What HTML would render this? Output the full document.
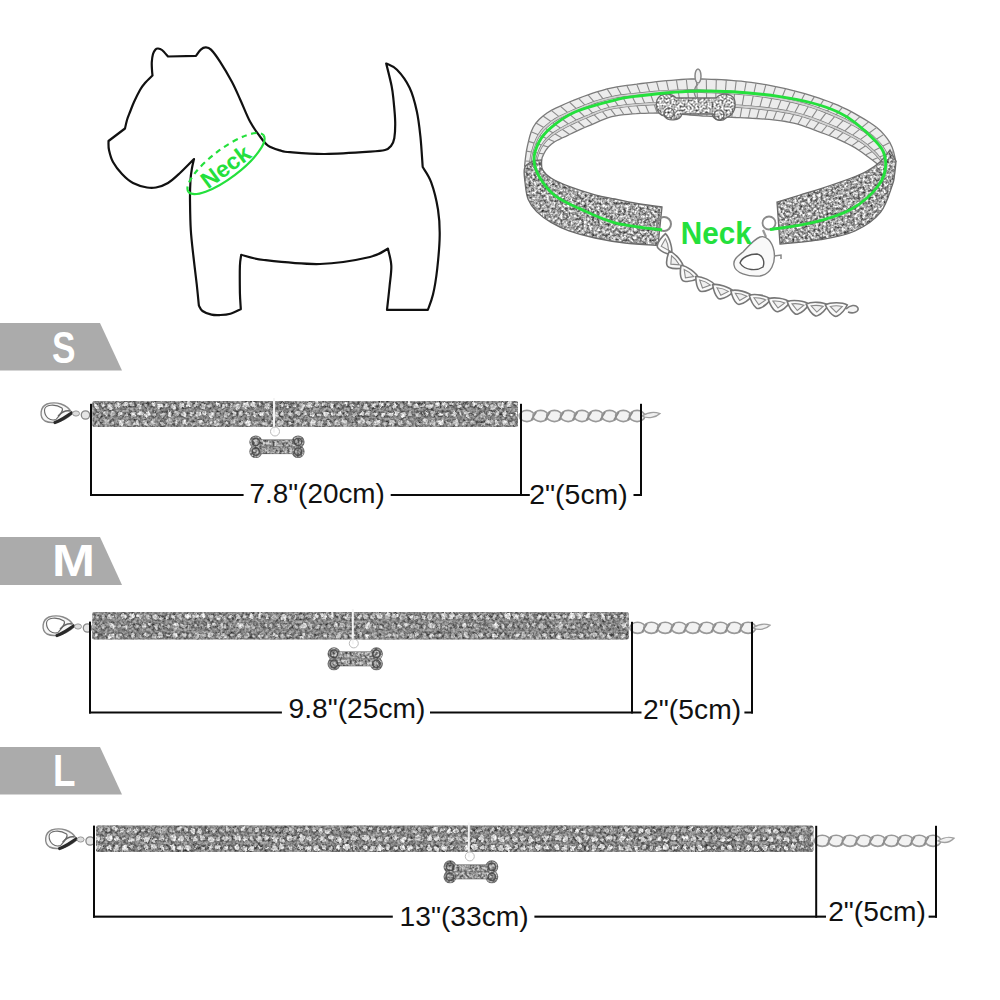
<!DOCTYPE html><html><head><meta charset="utf-8"><style>
html,body{margin:0;padding:0;background:#fff;width:1000px;height:1000px;overflow:hidden}
svg{display:block;font-family:"Liberation Sans",sans-serif}
.ln{fill:#0a0a0a}
.lk{fill:none;stroke:#888;stroke-width:1.6}
</style></head><body>
<svg width="1000" height="1000" viewBox="0 0 1000 1000">
<defs>
<filter id="tex" x="0" y="0" width="1" height="1" color-interpolation-filters="sRGB">
 <feTurbulence type="fractalNoise" baseFrequency="0.38" numOctaves="2" seed="7" result="n"/>
 <feColorMatrix in="n" type="matrix" values="1.8 0 0 0 -0.26  1.8 0 0 0 -0.26  1.8 0 0 0 -0.26  0 0 0 0 1" result="g"/>
 <feComposite in="g" in2="SourceGraphic" operator="in"/>
</filter>
<filter id="tex2" x="0" y="0" width="1" height="1" color-interpolation-filters="sRGB">
 <feTurbulence type="fractalNoise" baseFrequency="0.4" numOctaves="2" seed="3" result="n"/>
 <feColorMatrix in="n" type="matrix" values="1.8 0 0 0 -0.3  1.8 0 0 0 -0.3  1.8 0 0 0 -0.3  0 0 0 0 1" result="g"/>
 <feComposite in="g" in2="SourceGraphic" operator="in"/>
</filter>
<filter id="tex3" x="0" y="0" width="1" height="1" color-interpolation-filters="sRGB">
 <feTurbulence type="fractalNoise" baseFrequency="0.38" numOctaves="2" seed="11" result="n"/>
 <feColorMatrix in="n" type="matrix" values="1.45 0 0 0 -0.03  1.45 0 0 0 -0.03  1.45 0 0 0 -0.03  0 0 0 0 1" result="g"/>
 <feComposite in="g" in2="SourceGraphic" operator="in"/>
</filter>
<filter id="tex4" x="0" y="0" width="1" height="1" color-interpolation-filters="sRGB">
 <feTurbulence type="fractalNoise" baseFrequency="0.5" numOctaves="2" seed="5" result="n"/>
 <feColorMatrix in="n" type="matrix" values="1.6 0 0 0 -0.05  1.6 0 0 0 -0.05  1.6 0 0 0 -0.05  0 0 0 0 1" result="g"/>
 <feComposite in="g" in2="SourceGraphic" operator="in"/>
</filter>
<filter id="warp" x="0" y="0" width="1" height="1" color-interpolation-filters="sRGB">
 <feTurbulence type="fractalNoise" baseFrequency="0.25" numOctaves="2" seed="9" result="t"/>
 <feDisplacementMap in="SourceGraphic" in2="t" scale="5" xChannelSelector="R" yChannelSelector="G" result="d"/>
 <feComposite in="d" in2="SourceGraphic" operator="in"/>
</filter>
<pattern id="bandpat" patternUnits="userSpaceOnUse" width="9" height="8" patternTransform="rotate(12)">
 <circle cx="4.5" cy="4" r="3.2" fill="none" stroke="#333" stroke-width="1.2"/>
</pattern>
<filter id="blur" x="-20%" y="-50%" width="140%" height="200%"><feGaussianBlur stdDeviation="6"/></filter>
</defs>
<rect width="1000" height="1000" fill="#fff"/>

<path d="M152.5,75.5 C152.4,74.6 152.1,72.2 152.0,70.0 C151.9,67.8 151.6,64.7 151.8,62.0 C152.0,59.3 152.4,56.1 153.0,54.0 C153.6,51.9 154.7,50.4 155.5,49.5 C156.3,48.6 156.9,48.4 158.0,48.5 C159.1,48.6 160.3,48.7 162.0,50.0 C163.7,51.3 167.0,55.4 168.0,56.5 L196.0,55.8 C196.8,54.8 199.2,51.0 200.8,49.6 C202.4,48.2 203.9,47.4 205.6,47.4 C207.3,47.4 208.6,47.2 211.0,49.6 C213.4,52.0 216.5,56.2 220.0,61.6 C223.5,67.0 228.6,75.6 232.0,82.0 C235.4,88.4 237.4,93.4 240.4,100.0 C243.4,106.6 246.8,115.6 250.0,121.6 C253.2,127.6 256.6,132.0 259.6,136.0 C262.6,140.0 264.6,143.2 268.0,145.6 C271.4,148.0 276.3,149.3 280.0,150.4 C283.7,151.5 282.5,151.6 290.0,152.2 C297.5,152.8 311.7,154.1 325.0,154.0 C338.3,153.9 360.0,152.4 370.0,151.7 C380.0,151.0 381.5,150.9 385.0,150.0 C388.5,149.1 389.4,148.0 391.0,146.0 C392.6,144.0 393.6,142.2 394.3,138.2 C395.0,134.2 395.3,128.4 395.2,122.0 C395.1,115.6 394.1,106.0 393.5,100.0 C392.9,94.0 392.8,92.1 391.6,86.0 C390.4,79.9 387.1,67.2 386.2,63.5 C388.0,64.5 393.1,65.8 397.0,69.8 C400.9,73.8 406.3,80.9 409.6,87.8 C412.9,94.7 415.0,103.1 416.8,111.2 C418.6,119.3 419.4,127.1 420.4,136.4 C421.4,145.7 422.3,161.9 422.7,167.0 C424.1,169.6 428.6,175.2 431.2,182.3 C433.8,189.4 436.6,200.7 438.0,209.5 C439.4,218.3 439.8,225.1 439.7,235.0 C439.6,244.9 438.3,259.1 437.2,269.0 C436.1,278.9 434.6,287.8 433.0,294.6 C431.4,301.4 428.7,307.3 427.8,309.9 L387.0,309.9 C387.4,305.9 388.9,293.4 389.6,286.0 C390.3,278.6 391.6,271.8 391.3,265.6 C391.0,259.4 388.5,251.4 387.9,248.6 C384.9,250.0 381.3,254.4 370.0,257.0 C358.7,259.6 337.7,263.5 320.0,264.0 C302.3,264.5 277.1,261.5 264.0,260.0 C250.9,258.5 245.0,255.7 241.2,254.8 C241.0,256.7 240.1,259.6 239.9,266.0 C239.7,272.4 239.8,285.8 239.9,293.0 C240.1,300.2 240.7,306.5 240.8,309.2 C239.1,309.9 233.8,312.7 230.4,313.7 C227.0,314.7 223.7,314.9 220.5,315.0 C217.3,315.1 214.5,315.3 211.5,314.6 C208.5,313.9 204.6,312.5 202.5,311.0 C200.4,309.5 199.5,306.5 198.9,305.6 C198.5,302.0 197.6,292.1 196.7,284.0 C195.8,275.9 194.5,266.0 193.5,257.0 C192.5,248.0 191.4,239.5 190.8,230.0 C190.2,220.5 190.1,208.3 190.0,200.0 C189.9,191.7 190.2,185.3 190.5,180.0 C190.8,174.7 191.4,171.5 192.0,168.0 C192.6,164.5 193.7,160.5 194.0,159.0 C191.7,161.3 184.3,169.0 180.0,173.0 C175.7,177.0 172.0,180.6 168.0,183.0 C164.0,185.4 159.5,186.8 156.0,187.5 C152.5,188.2 150.8,188.2 147.0,187.5 C143.2,186.8 137.2,185.2 133.0,183.0 C128.8,180.8 125.3,177.5 122.0,174.0 C118.7,170.5 115.2,166.0 113.0,162.0 C110.8,158.0 109.8,153.5 109.0,150.0 C108.2,146.5 108.6,142.5 108.5,141.0 L125.0,128.5 C125.3,127.1 126.2,122.8 127.0,120.0 C127.8,117.2 128.8,115.0 130.0,112.0 C131.2,109.0 132.3,105.7 134.0,102.0 C135.7,98.3 138.2,93.2 140.0,90.0 C141.8,86.8 142.9,85.4 145.0,83.0 C147.1,80.6 151.2,76.8 152.5,75.5 Z" fill="none" stroke="#111" stroke-width="2.2" stroke-linejoin="round"/>
<g transform="translate(226,163.5) rotate(-37)"><path d="M-47,0 A47,14.5 0 0 0 47,0" fill="none" stroke="#24e03c" stroke-width="2.2"/><path d="M-47,0 A47,14.5 0 0 1 47,0" fill="none" stroke="#24e03c" stroke-width="2.2" stroke-dasharray="5.5,4.5"/></g>
<text x="0" y="0" font-size="23" font-weight="bold" fill="#24e03c" transform="translate(208,189.5) rotate(-36.5)" textLength="55.5" lengthAdjust="spacingAndGlyphs">Neck</text>
<path d="M524.6,166.0 L525.1,161.0 L525.7,156.1 L526.4,151.1 L527.4,146.2 L528.5,141.4 L529.7,136.5 L531.2,131.8 L533.2,127.2 L536.0,123.0 L539.3,119.3 L543.0,116.0 L547.0,113.0 L551.3,110.4 L555.7,108.2 L560.3,106.1 L564.8,104.0 L569.4,102.0 L574.0,100.1 L578.6,98.3 L583.3,96.5 L588.0,94.8 L592.8,93.2 L597.5,91.7 L602.3,90.3 L607.1,88.9 L612.0,87.8 L616.9,86.8 L621.8,86.1 L626.8,85.4 L631.7,84.8 L636.7,84.2 L641.6,83.5 L646.6,82.9 L651.5,82.3 L656.5,81.7 L661.5,81.2 L666.4,80.7 L671.4,80.3 L676.4,79.9 L681.4,79.5 L686.3,79.2 L691.3,79.0 L696.3,79.0 L701.3,79.0 L706.3,79.1 L711.3,79.3 L716.3,79.5 L721.3,79.7 L726.3,80.0 L731.2,80.4 L736.2,80.8 L741.2,81.2 L746.2,81.8 L751.1,82.4 L756.1,83.1 L761.0,83.9 L765.9,84.7 L770.8,85.6 L775.7,86.6 L780.6,87.6 L785.5,88.7 L790.3,89.8 L795.2,91.1 L800.0,92.3 L804.8,93.7 L809.6,95.1 L814.4,96.6 L819.1,98.2 L823.8,99.8 L828.5,101.5 L833.2,103.3 L837.8,105.2 L842.4,107.3 L846.9,109.4 L851.3,111.7 L855.7,114.1 L860.0,116.6 L864.3,119.1 L868.6,121.8 L872.7,124.5 L876.8,127.4 L880.5,130.8 L883.9,134.4 L887.1,138.3 L889.8,142.4 L892.0,146.9 L893.6,151.7 L894.7,156.5 L895.8,161.4 L878.8,165.0 L875.5,162.4 L872.3,159.9 L868.9,157.4 L865.5,155.0 L862.2,152.5 L858.8,150.2 L855.3,147.9 L851.7,145.9 L848.0,144.0 L844.2,142.1 L840.5,140.4 L836.7,138.7 L832.9,137.0 L829.0,135.5 L825.1,134.0 L821.2,132.6 L817.3,131.2 L813.4,129.7 L809.6,128.2 L805.7,126.8 L801.7,125.4 L797.8,124.2 L793.7,123.2 L789.7,122.3 L785.6,121.5 L781.5,120.8 L777.4,120.3 L773.3,119.8 L769.1,119.4 L765.0,119.1 L760.8,118.8 L756.7,118.5 L752.5,118.3 L748.4,118.0 L744.2,117.8 L740.1,117.6 L735.9,117.5 L731.8,117.3 L727.6,117.1 L723.5,116.9 L719.3,116.7 L715.2,116.6 L711.0,116.4 L706.9,116.2 L702.7,116.0 L698.6,115.7 L694.5,115.4 L690.3,115.1 L686.2,114.7 L682.0,114.3 L677.9,114.0 L673.8,113.6 L669.6,113.3 L665.5,113.1 L661.3,113.0 L657.2,113.0 L653.0,113.1 L648.9,113.1 L644.7,113.3 L640.5,113.4 L636.4,113.7 L632.3,113.9 L628.1,114.3 L624.0,114.7 L619.9,115.2 L615.8,115.8 L611.7,116.7 L607.7,117.8 L603.8,119.3 L600.0,120.9 L596.2,122.6 L592.4,124.3 L588.5,125.8 L584.7,127.5 L580.9,129.2 L577.2,130.9 L573.4,132.7 L569.6,134.5 L565.9,136.3 L562.1,138.0 L558.4,139.8 L554.7,141.8 L551.3,144.2 L548.3,147.0 L545.8,150.3 L543.8,153.9 L542.1,157.8 L541.5,161.8 L541.4,166.0 Z" fill="#ececec"/>
<path d="M524.6,166.0 L525.1,161.0 L525.7,156.1 L526.4,151.1 L527.4,146.2 L528.5,141.4 L529.7,136.5 L531.2,131.8 L533.2,127.2 L536.0,123.0 L539.3,119.3 L543.0,116.0 L547.0,113.0 L551.3,110.4 L555.7,108.2 L560.3,106.1 L564.8,104.0 L569.4,102.0 L574.0,100.1 L578.6,98.3 L583.3,96.5 L588.0,94.8 L592.8,93.2 L597.5,91.7 L602.3,90.3 L607.1,88.9 L612.0,87.8 L616.9,86.8 L621.8,86.1 L626.8,85.4 L631.7,84.8 L636.7,84.2 L641.6,83.5 L646.6,82.9 L651.5,82.3 L656.5,81.7 L661.5,81.2 L666.4,80.7 L671.4,80.3 L676.4,79.9 L681.4,79.5 L686.3,79.2 L691.3,79.0 L696.3,79.0 L701.3,79.0 L706.3,79.1 L711.3,79.3 L716.3,79.5 L721.3,79.7 L726.3,80.0 L731.2,80.4 L736.2,80.8 L741.2,81.2 L746.2,81.8 L751.1,82.4 L756.1,83.1 L761.0,83.9 L765.9,84.7 L770.8,85.6 L775.7,86.6 L780.6,87.6 L785.5,88.7 L790.3,89.8 L795.2,91.1 L800.0,92.3 L804.8,93.7 L809.6,95.1 L814.4,96.6 L819.1,98.2 L823.8,99.8 L828.5,101.5 L833.2,103.3 L837.8,105.2 L842.4,107.3 L846.9,109.4 L851.3,111.7 L855.7,114.1 L860.0,116.6 L864.3,119.1 L868.6,121.8 L872.7,124.5 L876.8,127.4 L880.5,130.8 L883.9,134.4 L887.1,138.3 L889.8,142.4 L892.0,146.9 L893.6,151.7 L894.7,156.5 L895.8,161.4 L890.7,162.5 L889.0,158.3 L887.2,154.1 L885.1,150.1 L882.6,146.2 L879.6,142.6 L876.3,139.2 L872.9,135.9 L869.2,133.0 L865.3,130.3 L861.3,127.9 L857.2,125.5 L853.0,123.2 L848.8,121.0 L844.6,118.8 L840.3,116.8 L836.0,114.9 L831.7,113.0 L827.3,111.2 L822.8,109.5 L818.4,107.9 L813.9,106.3 L809.4,104.9 L804.9,103.5 L800.3,102.3 L795.7,101.1 L791.1,100.0 L786.5,99.0 L781.8,98.0 L777.2,97.1 L772.5,96.3 L767.8,95.6 L763.1,94.9 L758.5,94.2 L753.8,93.6 L749.1,93.0 L744.3,92.5 L739.6,92.1 L734.9,91.7 L730.2,91.4 L725.4,91.1 L720.7,90.8 L716.0,90.6 L711.2,90.4 L706.5,90.3 L701.7,90.1 L697.0,90.0 L692.3,89.9 L687.5,90.0 L682.8,90.1 L678.1,90.2 L673.3,90.4 L668.6,90.6 L663.9,90.8 L659.2,91.1 L654.5,91.5 L649.7,91.9 L645.0,92.4 L640.3,92.9 L635.6,93.4 L630.9,93.8 L626.2,94.4 L621.5,95.0 L616.8,95.7 L612.2,96.7 L607.6,97.7 L603.0,98.9 L598.4,100.3 L593.9,101.7 L589.5,103.4 L585.0,105.1 L580.7,106.9 L576.3,108.7 L571.9,110.5 L567.6,112.5 L563.3,114.5 L559.0,116.6 L554.9,118.9 L551.0,121.5 L547.3,124.4 L543.8,127.5 L540.8,131.0 L538.2,134.8 L536.2,138.8 L534.4,143.1 L532.9,147.5 L531.6,152.0 L530.6,156.6 L530.0,161.3 L529.6,166.0 Z" fill="#ececec" stroke="#7a7a7a" stroke-width="1.3"/>
<path d="M525.1,161.0 L530.0,161.3 M526.4,151.1 L531.6,152.0 M528.5,141.4 L534.4,143.1 M531.2,131.8 L538.2,134.8 M536.0,123.0 L543.8,127.5 M543.0,116.0 L551.0,121.5 M551.3,110.4 L559.0,116.6 M560.3,106.1 L567.6,112.5 M569.4,102.0 L576.3,108.7 M578.6,98.3 L585.0,105.1 M588.0,94.8 L593.9,101.7 M597.5,91.7 L603.0,98.9 M607.1,88.9 L612.2,96.7 M616.9,86.8 L621.5,95.0 M626.8,85.4 L630.9,93.8 M636.7,84.2 L640.3,92.9 M646.6,82.9 L649.7,91.9 M656.5,81.7 L659.2,91.1 M666.4,80.7 L668.6,90.6 M676.4,79.9 L678.1,90.2 M686.3,79.2 L687.5,90.0 M696.3,79.0 L697.0,90.0 M706.3,79.1 L706.5,90.3 M716.3,79.5 L716.0,90.6 M726.3,80.0 L725.4,91.1 M736.2,80.8 L734.9,91.7 M746.2,81.8 L744.3,92.5 M756.1,83.1 L753.8,93.6 M765.9,84.7 L763.1,94.9 M775.7,86.6 L772.5,96.3 M785.5,88.7 L781.8,98.0 M795.2,91.1 L791.1,100.0 M804.8,93.7 L800.3,102.3 M814.4,96.6 L809.4,104.9 M823.8,99.8 L818.4,107.9 M833.2,103.3 L827.3,111.2 M842.4,107.3 L836.0,114.9 M851.3,111.7 L844.6,118.8 M860.0,116.6 L853.0,123.2 M868.6,121.8 L861.3,127.9 M876.8,127.4 L869.2,133.0 M883.9,134.4 L876.3,139.2 M889.8,142.4 L882.6,146.2 M893.6,151.7 L887.2,154.1" stroke="#8a8a8a" stroke-width="1.1"/>
<path d="M530.6,166.0 L531.0,161.3 L531.6,156.7 L532.6,152.1 L534.0,147.7 L535.6,143.4 L537.5,139.3 L539.7,135.4 L542.3,131.8 L545.4,128.4 L548.8,125.4 L552.6,122.6 L556.5,120.1 L560.6,117.8 L564.8,115.7 L569.1,113.8 L573.3,111.9 L577.7,110.0 L582.0,108.2 L586.3,106.4 L590.7,104.7 L595.1,103.1 L599.6,101.7 L604.1,100.4 L608.6,99.2 L613.2,98.2 L617.8,97.3 L622.4,96.6 L627.1,96.0 L631.7,95.5 L636.4,95.1 L641.0,94.6 L645.7,94.2 L650.4,93.8 L655.0,93.4 L659.7,93.0 L664.4,92.8 L669.1,92.6 L673.7,92.4 L678.4,92.3 L683.1,92.2 L687.8,92.1 L692.5,92.1 L697.1,92.2 L701.8,92.3 L706.5,92.5 L711.2,92.7 L715.9,92.8 L720.6,93.1 L725.3,93.3 L729.9,93.6 L734.6,93.9 L739.3,94.3 L744.0,94.7 L748.6,95.2 L753.3,95.7 L757.9,96.3 L762.6,96.9 L767.2,97.6 L771.9,98.3 L776.5,99.1 L781.1,99.9 L785.7,100.8 L790.3,101.8 L794.8,102.8 L799.4,104.0 L803.9,105.2 L808.4,106.5 L812.9,108.0 L817.3,109.5 L821.7,111.1 L826.1,112.8 L830.4,114.6 L834.8,116.4 L839.0,118.3 L843.3,120.3 L847.5,122.4 L851.6,124.5 L855.7,126.8 L859.8,129.1 L863.8,131.5 L867.7,134.1 L871.4,136.9 L874.8,140.1 L878.1,143.4 L881.1,146.9 L883.7,150.7 L885.9,154.6 L887.8,158.6 L889.7,162.7 L884.6,163.8 L882.1,160.4 L879.5,157.1 L876.8,153.8 L873.8,150.7 L870.6,147.7 L867.3,144.8 L863.8,142.1 L860.2,139.6 L856.4,137.4 L852.5,135.2 L848.6,133.2 L844.6,131.2 L840.6,129.2 L836.6,127.4 L832.5,125.6 L828.4,124.0 L824.3,122.3 L820.2,120.7 L816.0,119.1 L811.8,117.6 L807.6,116.2 L803.4,114.8 L799.1,113.6 L794.8,112.6 L790.5,111.6 L786.2,110.7 L781.8,109.9 L777.4,109.2 L773.0,108.6 L768.6,108.0 L764.2,107.5 L759.8,107.0 L755.4,106.6 L751.0,106.2 L746.6,105.8 L742.2,105.4 L737.7,105.1 L733.3,104.9 L728.9,104.6 L724.4,104.4 L720.0,104.2 L715.6,104.0 L711.1,103.8 L706.7,103.6 L702.3,103.4 L697.8,103.2 L693.4,103.0 L689.0,102.9 L684.5,102.8 L680.1,102.6 L675.7,102.5 L671.3,102.4 L666.8,102.4 L662.4,102.4 L658.0,102.6 L653.6,102.8 L649.1,103.0 L644.7,103.3 L640.3,103.6 L635.9,103.9 L631.4,104.3 L627.0,104.7 L622.6,105.3 L618.2,105.9 L613.9,106.7 L609.5,107.6 L605.2,108.7 L601.0,110.0 L596.8,111.5 L592.7,113.2 L588.7,115.0 L584.6,116.7 L580.5,118.4 L576.4,120.2 L572.4,122.0 L568.4,124.0 L564.4,126.0 L560.6,128.2 L556.8,130.5 L553.2,132.9 L549.8,135.5 L546.7,138.4 L544.0,141.6 L541.6,145.1 L539.5,148.9 L537.9,153.0 L536.5,157.2 L535.9,161.6 L535.7,166.0 Z" fill="#ececec" stroke="#7a7a7a" stroke-width="1.3"/>
<path d="M531.0,161.3 L535.9,161.6 M532.6,152.1 L537.9,153.0 M535.6,143.4 L541.6,145.1 M539.7,135.4 L546.7,138.4 M545.4,128.4 L553.2,132.9 M552.6,122.6 L560.6,128.2 M560.6,117.8 L568.4,124.0 M569.1,113.8 L576.4,120.2 M577.7,110.0 L584.6,116.7 M586.3,106.4 L592.7,113.2 M595.1,103.1 L601.0,110.0 M604.1,100.4 L609.5,107.6 M613.2,98.2 L618.2,105.9 M622.4,96.6 L627.0,104.7 M631.7,95.5 L635.9,103.9 M641.0,94.6 L644.7,103.3 M650.4,93.8 L653.6,102.8 M659.7,93.0 L662.4,102.4 M669.1,92.6 L671.3,102.4 M678.4,92.3 L680.1,102.6 M687.8,92.1 L689.0,102.9 M697.1,92.2 L697.8,103.2 M706.5,92.5 L706.7,103.6 M715.9,92.8 L715.6,104.0 M725.3,93.3 L724.4,104.4 M734.6,93.9 L733.3,104.9 M744.0,94.7 L742.2,105.4 M753.3,95.7 L751.0,106.2 M762.6,96.9 L759.8,107.0 M771.9,98.3 L768.6,108.0 M781.1,99.9 L777.4,109.2 M790.3,101.8 L786.2,110.7 M799.4,104.0 L794.8,112.6 M808.4,106.5 L803.4,114.8 M817.3,109.5 L811.8,117.6 M826.1,112.8 L820.2,120.7 M834.8,116.4 L828.4,124.0 M843.3,120.3 L836.6,127.4 M851.6,124.5 L844.6,131.2 M859.8,129.1 L852.5,135.2 M867.7,134.1 L860.2,139.6 M874.8,140.1 L867.3,144.8 M881.1,146.9 L873.8,150.7 M885.9,154.6 L879.5,157.1" stroke="#8a8a8a" stroke-width="1.1"/>
<path d="M536.7,166.0 L536.9,161.6 L537.5,157.3 L538.9,153.2 L540.6,149.2 L542.7,145.4 L545.3,142.0 L548.1,139.0 L551.3,136.3 L554.8,133.8 L558.4,131.5 L562.2,129.3 L566.0,127.2 L569.9,125.2 L573.9,123.3 L577.9,121.5 L581.9,119.7 L585.9,118.0 L590.0,116.3 L594.0,114.6 L598.1,112.9 L602.2,111.4 L606.4,110.1 L610.6,109.1 L614.9,108.2 L619.3,107.5 L623.6,106.9 L627.9,106.4 L632.3,105.9 L636.7,105.6 L641.1,105.3 L645.4,105.0 L649.8,104.8 L654.2,104.6 L658.6,104.4 L663.0,104.3 L667.3,104.3 L671.7,104.4 L676.1,104.5 L680.4,104.7 L684.8,104.9 L689.2,105.0 L693.6,105.2 L698.0,105.4 L702.3,105.6 L706.7,105.8 L711.1,106.0 L715.5,106.2 L719.9,106.4 L724.3,106.6 L728.7,106.8 L733.0,107.0 L737.4,107.3 L741.8,107.6 L746.2,107.9 L750.5,108.3 L754.9,108.6 L759.3,109.1 L763.6,109.5 L768.0,110.0 L772.3,110.5 L776.7,111.1 L781.0,111.8 L785.3,112.5 L789.6,113.3 L793.9,114.3 L798.2,115.3 L802.4,116.5 L806.6,117.8 L810.8,119.2 L814.9,120.7 L819.0,122.3 L823.1,123.9 L827.1,125.5 L831.2,127.1 L835.3,128.8 L839.3,130.6 L843.2,132.5 L847.2,134.4 L851.0,136.4 L854.9,138.5 L858.7,140.7 L862.3,143.1 L865.8,145.8 L869.1,148.6 L872.4,151.5 L875.4,154.5 L878.2,157.6 L880.9,160.8 L883.6,164.0 L878.8,165.0 L875.5,162.4 L872.3,159.9 L868.9,157.4 L865.5,155.0 L862.2,152.5 L858.8,150.2 L855.3,147.9 L851.7,145.9 L848.0,144.0 L844.2,142.1 L840.5,140.4 L836.7,138.7 L832.9,137.0 L829.0,135.5 L825.1,134.0 L821.2,132.6 L817.3,131.2 L813.4,129.7 L809.6,128.2 L805.7,126.8 L801.7,125.4 L797.8,124.2 L793.7,123.2 L789.7,122.3 L785.6,121.5 L781.5,120.8 L777.4,120.3 L773.3,119.8 L769.1,119.4 L765.0,119.1 L760.8,118.8 L756.7,118.5 L752.5,118.3 L748.4,118.0 L744.2,117.8 L740.1,117.6 L735.9,117.5 L731.8,117.3 L727.6,117.1 L723.5,116.9 L719.3,116.7 L715.2,116.6 L711.0,116.4 L706.9,116.2 L702.7,116.0 L698.6,115.7 L694.5,115.4 L690.3,115.1 L686.2,114.7 L682.0,114.3 L677.9,114.0 L673.8,113.6 L669.6,113.3 L665.5,113.1 L661.3,113.0 L657.2,113.0 L653.0,113.1 L648.9,113.1 L644.7,113.3 L640.5,113.4 L636.4,113.7 L632.3,113.9 L628.1,114.3 L624.0,114.7 L619.9,115.2 L615.8,115.8 L611.7,116.7 L607.7,117.8 L603.8,119.3 L600.0,120.9 L596.2,122.6 L592.4,124.3 L588.5,125.8 L584.7,127.5 L580.9,129.2 L577.2,130.9 L573.4,132.7 L569.6,134.5 L565.9,136.3 L562.1,138.0 L558.4,139.8 L554.7,141.8 L551.3,144.2 L548.3,147.0 L545.8,150.3 L543.8,153.9 L542.1,157.8 L541.5,161.8 L541.4,166.0 Z" fill="#ececec" stroke="#7a7a7a" stroke-width="1.3"/>
<path d="M536.9,161.6 L541.5,161.8 M538.9,153.2 L543.8,153.9 M542.7,145.4 L548.3,147.0 M548.1,139.0 L554.7,141.8 M554.8,133.8 L562.1,138.0 M562.2,129.3 L569.6,134.5 M569.9,125.2 L577.2,130.9 M577.9,121.5 L584.7,127.5 M585.9,118.0 L592.4,124.3 M594.0,114.6 L600.0,120.9 M602.2,111.4 L607.7,117.8 M610.6,109.1 L615.8,115.8 M619.3,107.5 L624.0,114.7 M627.9,106.4 L632.3,113.9 M636.7,105.6 L640.5,113.4 M645.4,105.0 L648.9,113.1 M654.2,104.6 L657.2,113.0 M663.0,104.3 L665.5,113.1 M671.7,104.4 L673.8,113.6 M680.4,104.7 L682.0,114.3 M689.2,105.0 L690.3,115.1 M698.0,105.4 L698.6,115.7 M706.7,105.8 L706.9,116.2 M715.5,106.2 L715.2,116.6 M724.3,106.6 L723.5,116.9 M733.0,107.0 L731.8,117.3 M741.8,107.6 L740.1,117.6 M750.5,108.3 L748.4,118.0 M759.3,109.1 L756.7,118.5 M768.0,110.0 L765.0,119.1 M776.7,111.1 L773.3,119.8 M785.3,112.5 L781.5,120.8 M793.9,114.3 L789.7,122.3 M802.4,116.5 L797.8,124.2 M810.8,119.2 L805.7,126.8 M819.0,122.3 L813.4,129.7 M827.1,125.5 L821.2,132.6 M835.3,128.8 L829.0,135.5 M843.2,132.5 L836.7,138.7 M851.0,136.4 L844.2,142.1 M858.7,140.7 L851.7,145.9 M865.8,145.8 L858.8,150.2 M872.4,151.5 L865.5,155.0 M878.2,157.6 L872.3,159.9" stroke="#8a8a8a" stroke-width="1.1"/>
<path d="M529.6,166.0 L530.0,161.3 L530.6,156.6 L531.6,152.0 L532.9,147.5 L534.4,143.1 L536.2,138.8 L538.2,134.8 L540.8,131.0 L543.8,127.5 L547.3,124.4 L551.0,121.5 L554.9,118.9 L559.0,116.6 L563.3,114.5 L567.6,112.5 L571.9,110.5 L576.3,108.7 L580.7,106.9 L585.0,105.1 L589.5,103.4 L593.9,101.7 L598.4,100.3 L603.0,98.9 L607.6,97.7 L612.2,96.7 L616.8,95.7 L621.5,95.0 L626.2,94.4 L630.9,93.8 L635.6,93.4 L640.3,92.9 L645.0,92.4 L649.7,91.9 L654.5,91.5 L659.2,91.1 L663.9,90.8 L668.6,90.6 L673.3,90.4 L678.1,90.2 L682.8,90.1 L687.5,90.0 L692.3,89.9 L697.0,90.0 L701.7,90.1 L706.5,90.3 L711.2,90.4 L716.0,90.6 L720.7,90.8 L725.4,91.1 L730.2,91.4 L734.9,91.7 L739.6,92.1 L744.3,92.5 L749.1,93.0 L753.8,93.6 L758.5,94.2 L763.1,94.9 L767.8,95.6 L772.5,96.3 L777.2,97.1 L781.8,98.0 L786.5,99.0 L791.1,100.0 L795.7,101.1 L800.3,102.3 L804.9,103.5 L809.4,104.9 L813.9,106.3 L818.4,107.9 L822.8,109.5 L827.3,111.2 L831.7,113.0 L836.0,114.9 L840.3,116.8 L844.6,118.8 L848.8,121.0 L853.0,123.2 L857.2,125.5 L861.3,127.9 L865.3,130.3 L869.2,133.0 L872.9,135.9 L876.3,139.2 L879.6,142.6 L882.6,146.2 L885.1,150.1 L887.2,154.1 L889.0,158.3 L890.7,162.5 L889.7,162.7 L887.8,158.6 L885.9,154.6 L883.7,150.7 L881.1,146.9 L878.1,143.4 L874.8,140.1 L871.4,136.9 L867.7,134.1 L863.8,131.5 L859.8,129.1 L855.7,126.8 L851.6,124.5 L847.5,122.4 L843.3,120.3 L839.0,118.3 L834.8,116.4 L830.4,114.6 L826.1,112.8 L821.7,111.1 L817.3,109.5 L812.9,108.0 L808.4,106.5 L803.9,105.2 L799.4,104.0 L794.8,102.8 L790.3,101.8 L785.7,100.8 L781.1,99.9 L776.5,99.1 L771.9,98.3 L767.2,97.6 L762.6,96.9 L757.9,96.3 L753.3,95.7 L748.6,95.2 L744.0,94.7 L739.3,94.3 L734.6,93.9 L729.9,93.6 L725.3,93.3 L720.6,93.1 L715.9,92.8 L711.2,92.7 L706.5,92.5 L701.8,92.3 L697.1,92.2 L692.5,92.1 L687.8,92.1 L683.1,92.2 L678.4,92.3 L673.7,92.4 L669.1,92.6 L664.4,92.8 L659.7,93.0 L655.0,93.4 L650.4,93.8 L645.7,94.2 L641.0,94.6 L636.4,95.1 L631.7,95.5 L627.1,96.0 L622.4,96.6 L617.8,97.3 L613.2,98.2 L608.6,99.2 L604.1,100.4 L599.6,101.7 L595.1,103.1 L590.7,104.7 L586.3,106.4 L582.0,108.2 L577.7,110.0 L573.3,111.9 L569.1,113.8 L564.8,115.7 L560.6,117.8 L556.5,120.1 L552.6,122.6 L548.8,125.4 L545.4,128.4 L542.3,131.8 L539.7,135.4 L537.5,139.3 L535.6,143.4 L534.0,147.7 L532.6,152.1 L531.6,156.7 L531.0,161.3 L530.6,166.0 Z" fill="#d0d0d0"/>
<path d="M535.7,166.0 L535.9,161.6 L536.5,157.2 L537.9,153.0 L539.5,148.9 L541.6,145.1 L544.0,141.6 L546.7,138.4 L549.8,135.5 L553.2,132.9 L556.8,130.5 L560.6,128.2 L564.4,126.0 L568.4,124.0 L572.4,122.0 L576.4,120.2 L580.5,118.4 L584.6,116.7 L588.7,115.0 L592.7,113.2 L596.8,111.5 L601.0,110.0 L605.2,108.7 L609.5,107.6 L613.9,106.7 L618.2,105.9 L622.6,105.3 L627.0,104.7 L631.4,104.3 L635.9,103.9 L640.3,103.6 L644.7,103.3 L649.1,103.0 L653.6,102.8 L658.0,102.6 L662.4,102.4 L666.8,102.4 L671.3,102.4 L675.7,102.5 L680.1,102.6 L684.5,102.8 L689.0,102.9 L693.4,103.0 L697.8,103.2 L702.3,103.4 L706.7,103.6 L711.1,103.8 L715.6,104.0 L720.0,104.2 L724.4,104.4 L728.9,104.6 L733.3,104.9 L737.7,105.1 L742.2,105.4 L746.6,105.8 L751.0,106.2 L755.4,106.6 L759.8,107.0 L764.2,107.5 L768.6,108.0 L773.0,108.6 L777.4,109.2 L781.8,109.9 L786.2,110.7 L790.5,111.6 L794.8,112.6 L799.1,113.6 L803.4,114.8 L807.6,116.2 L811.8,117.6 L816.0,119.1 L820.2,120.7 L824.3,122.3 L828.4,124.0 L832.5,125.6 L836.6,127.4 L840.6,129.2 L844.6,131.2 L848.6,133.2 L852.5,135.2 L856.4,137.4 L860.2,139.6 L863.8,142.1 L867.3,144.8 L870.6,147.7 L873.8,150.7 L876.8,153.8 L879.5,157.1 L882.1,160.4 L884.6,163.8 L883.6,164.0 L880.9,160.8 L878.2,157.6 L875.4,154.5 L872.4,151.5 L869.1,148.6 L865.8,145.8 L862.3,143.1 L858.7,140.7 L854.9,138.5 L851.0,136.4 L847.2,134.4 L843.2,132.5 L839.3,130.6 L835.3,128.8 L831.2,127.1 L827.1,125.5 L823.1,123.9 L819.0,122.3 L814.9,120.7 L810.8,119.2 L806.6,117.8 L802.4,116.5 L798.2,115.3 L793.9,114.3 L789.6,113.3 L785.3,112.5 L781.0,111.8 L776.7,111.1 L772.3,110.5 L768.0,110.0 L763.6,109.5 L759.3,109.1 L754.9,108.6 L750.5,108.3 L746.2,107.9 L741.8,107.6 L737.4,107.3 L733.0,107.0 L728.7,106.8 L724.3,106.6 L719.9,106.4 L715.5,106.2 L711.1,106.0 L706.7,105.8 L702.3,105.6 L698.0,105.4 L693.6,105.2 L689.2,105.0 L684.8,104.9 L680.4,104.7 L676.1,104.5 L671.7,104.4 L667.3,104.3 L663.0,104.3 L658.6,104.4 L654.2,104.6 L649.8,104.8 L645.4,105.0 L641.1,105.3 L636.7,105.6 L632.3,105.9 L627.9,106.4 L623.6,106.9 L619.3,107.5 L614.9,108.2 L610.6,109.1 L606.4,110.1 L602.2,111.4 L598.1,112.9 L594.0,114.6 L590.0,116.3 L585.9,118.0 L581.9,119.7 L577.9,121.5 L573.9,123.3 L569.9,125.2 L566.0,127.2 L562.2,129.3 L558.4,131.5 L554.8,133.8 L551.3,136.3 L548.1,139.0 L545.3,142.0 L542.7,145.4 L540.6,149.2 L538.9,153.2 L537.5,157.3 L536.9,161.6 L536.7,166.0 Z" fill="#d0d0d0"/>
<g filter="url(#tex4)"><path d="M657,100 C660,92 672,93 676,98 L716,98 C722,92 734,93 735,102 C736,110 732,116 726,118 C722,122 714,121 712,114 L682,114 C680,121 668,122 664,116 C657,114 655,106 657,100 Z" fill="#d6d6d6"/></g>
<path d="M657,100 C660,92 672,93 676,98 L716,98 C722,92 734,93 735,102 C736,110 732,116 726,118 C722,122 714,121 712,114 L682,114 C680,121 668,122 664,116 C657,114 655,106 657,100 Z" fill="none" stroke="#6a6a6a" stroke-width="1.3"/>
<circle cx="669" cy="113" r="5" fill="none" stroke="#666" stroke-width="1.2"/><circle cx="719" cy="115" r="5" fill="none" stroke="#666" stroke-width="1.2"/>
<ellipse cx="698" cy="76" rx="3" ry="7" fill="#f0f0f0" stroke="#888" stroke-width="1.5"/>
<path d="M698,84 C692,90 694,98 700,100" fill="none" stroke="#888" stroke-width="1.5"/>
<path d="M541.4,160.0 C540.0,160.2 535.8,159.7 533.0,161.0 C530.2,162.3 525.9,164.2 524.6,168.0 C523.3,171.8 524.6,178.7 525.2,184.0 C525.8,189.3 526.3,195.0 528.2,199.6 C530.1,204.2 532.8,207.8 536.6,211.6 C540.4,215.4 545.6,219.2 551.0,222.4 C556.4,225.6 561.7,228.2 569.0,230.8 C576.3,233.4 585.7,236.0 595.0,238.0 C604.3,240.0 614.5,241.8 625.0,243.0 C635.5,244.2 652.5,245.1 658.0,245.5 L662.0,207.0 C658.3,206.5 647.8,205.3 640.0,204.0 C632.2,202.7 622.5,200.5 615.0,199.0 C607.5,197.5 602.7,196.9 595.0,194.8 C587.3,192.7 576.3,189.2 569.0,186.4 C561.7,183.6 555.4,180.8 551.0,178.0 C546.6,175.2 544.2,172.6 542.6,169.6 C541.0,166.6 541.6,161.6 541.4,160.0 Z" fill="#888" filter="url(#tex3)"/>
<path d="M541.4,160.0 C540.0,160.2 535.8,159.7 533.0,161.0 C530.2,162.3 525.9,164.2 524.6,168.0 C523.3,171.8 524.6,178.7 525.2,184.0 C525.8,189.3 526.3,195.0 528.2,199.6 C530.1,204.2 532.8,207.8 536.6,211.6 C540.4,215.4 545.6,219.2 551.0,222.4 C556.4,225.6 561.7,228.2 569.0,230.8 C576.3,233.4 585.7,236.0 595.0,238.0 C604.3,240.0 614.5,241.8 625.0,243.0 C635.5,244.2 652.5,245.1 658.0,245.5 L662.0,207.0 C658.3,206.5 647.8,205.3 640.0,204.0 C632.2,202.7 622.5,200.5 615.0,199.0 C607.5,197.5 602.7,196.9 595.0,194.8 C587.3,192.7 576.3,189.2 569.0,186.4 C561.7,183.6 555.4,180.8 551.0,178.0 C546.6,175.2 544.2,172.6 542.6,169.6 C541.0,166.6 541.6,161.6 541.4,160.0 Z" fill="url(#bandpat)" filter="url(#warp)" opacity="0.55"/>
<path d="M541.4,160.0 C540.0,160.2 535.8,159.7 533.0,161.0 C530.2,162.3 525.9,164.2 524.6,168.0 C523.3,171.8 524.6,178.7 525.2,184.0 C525.8,189.3 526.3,195.0 528.2,199.6 C530.1,204.2 532.8,207.8 536.6,211.6 C540.4,215.4 545.6,219.2 551.0,222.4 C556.4,225.6 561.7,228.2 569.0,230.8 C576.3,233.4 585.7,236.0 595.0,238.0 C604.3,240.0 614.5,241.8 625.0,243.0 C635.5,244.2 652.5,245.1 658.0,245.5 L662.0,207.0 C658.3,206.5 647.8,205.3 640.0,204.0 C632.2,202.7 622.5,200.5 615.0,199.0 C607.5,197.5 602.7,196.9 595.0,194.8 C587.3,192.7 576.3,189.2 569.0,186.4 C561.7,183.6 555.4,180.8 551.0,178.0 C546.6,175.2 544.2,172.6 542.6,169.6 C541.0,166.6 541.6,161.6 541.4,160.0 Z" fill="none" stroke="#6a6a6a" stroke-width="1.3"/>
<path d="M777.0,202.0 C780.8,200.8 792.7,197.2 800.0,195.0 C807.3,192.8 812.7,191.3 821.0,188.6 C829.3,185.8 842.3,181.4 850.0,178.5 C857.7,175.6 862.0,173.8 867.0,171.0 C872.0,168.2 876.2,165.5 880.0,162.0 C883.8,158.5 888.3,152.0 890.0,150.0 L896.0,161.4 C895.8,163.7 895.1,171.1 894.5,175.0 C893.9,178.9 894.7,178.8 892.4,185.0 C890.1,191.2 886.7,204.7 880.5,212.4 C874.3,220.1 864.9,226.4 855.0,231.0 C845.1,235.6 833.5,237.5 821.0,239.7 C808.5,241.9 786.8,243.3 780.0,244.0 Z" fill="#888" filter="url(#tex3)"/>
<path d="M777.0,202.0 C780.8,200.8 792.7,197.2 800.0,195.0 C807.3,192.8 812.7,191.3 821.0,188.6 C829.3,185.8 842.3,181.4 850.0,178.5 C857.7,175.6 862.0,173.8 867.0,171.0 C872.0,168.2 876.2,165.5 880.0,162.0 C883.8,158.5 888.3,152.0 890.0,150.0 L896.0,161.4 C895.8,163.7 895.1,171.1 894.5,175.0 C893.9,178.9 894.7,178.8 892.4,185.0 C890.1,191.2 886.7,204.7 880.5,212.4 C874.3,220.1 864.9,226.4 855.0,231.0 C845.1,235.6 833.5,237.5 821.0,239.7 C808.5,241.9 786.8,243.3 780.0,244.0 Z" fill="url(#bandpat)" filter="url(#warp)" opacity="0.55"/>
<path d="M777.0,202.0 C780.8,200.8 792.7,197.2 800.0,195.0 C807.3,192.8 812.7,191.3 821.0,188.6 C829.3,185.8 842.3,181.4 850.0,178.5 C857.7,175.6 862.0,173.8 867.0,171.0 C872.0,168.2 876.2,165.5 880.0,162.0 C883.8,158.5 888.3,152.0 890.0,150.0 L896.0,161.4 C895.8,163.7 895.1,171.1 894.5,175.0 C893.9,178.9 894.7,178.8 892.4,185.0 C890.1,191.2 886.7,204.7 880.5,212.4 C874.3,220.1 864.9,226.4 855.0,231.0 C845.1,235.6 833.5,237.5 821.0,239.7 C808.5,241.9 786.8,243.3 780.0,244.0 Z" fill="none" stroke="#6a6a6a" stroke-width="1.3"/>
<g transform="translate(664.6 245.3) rotate(74.2)"><path d="M-11,-4 C-6,-7 6,-7 11,-4 C9,0 5,5 1,7 C0,7.5 -1,7.5 -2,7 C-6,5 -9,0 -11,-4 Z" fill="#fafafa" stroke="#777" stroke-width="1.6"/><path d="M-6,-2.5 C-2,-3.5 2,-3.5 6,-2.5 L0,3.5 Z" fill="#f0f0f0" stroke="#8a8a8a" stroke-width="1.1"/></g>
<g transform="translate(673.5 261.9) rotate(49.7)"><path d="M-11,-4 C-6,-7 6,-7 11,-4 C9,0 5,5 1,7 C0,7.5 -1,7.5 -2,7 C-6,5 -9,0 -11,-4 Z" fill="#fafafa" stroke="#777" stroke-width="1.6"/><path d="M-6,-2.5 C-2,-3.5 2,-3.5 6,-2.5 L0,3.5 Z" fill="#f0f0f0" stroke="#8a8a8a" stroke-width="1.1"/></g>
<g transform="translate(687.5 275.0) rotate(36.3)"><path d="M-11,-4 C-6,-7 6,-7 11,-4 C9,0 5,5 1,7 C0,7.5 -1,7.5 -2,7 C-6,5 -9,0 -11,-4 Z" fill="#fafafa" stroke="#777" stroke-width="1.6"/><path d="M-6,-2.5 C-2,-3.5 2,-3.5 6,-2.5 L0,3.5 Z" fill="#f0f0f0" stroke="#8a8a8a" stroke-width="1.1"/></g>
<g transform="translate(704.0 284.8) rotate(25.3)"><path d="M-11,-4 C-6,-7 6,-7 11,-4 C9,0 5,5 1,7 C0,7.5 -1,7.5 -2,7 C-6,5 -9,0 -11,-4 Z" fill="#fafafa" stroke="#777" stroke-width="1.6"/><path d="M-6,-2.5 C-2,-3.5 2,-3.5 6,-2.5 L0,3.5 Z" fill="#f0f0f0" stroke="#8a8a8a" stroke-width="1.1"/></g>
<g transform="translate(721.9 291.9) rotate(17.9)"><path d="M-11,-4 C-6,-7 6,-7 11,-4 C9,0 5,5 1,7 C0,7.5 -1,7.5 -2,7 C-6,5 -9,0 -11,-4 Z" fill="#fafafa" stroke="#777" stroke-width="1.6"/><path d="M-6,-2.5 C-2,-3.5 2,-3.5 6,-2.5 L0,3.5 Z" fill="#f0f0f0" stroke="#8a8a8a" stroke-width="1.1"/></g>
<g transform="translate(740.5 297.2) rotate(14.0)"><path d="M-11,-4 C-6,-7 6,-7 11,-4 C9,0 5,5 1,7 C0,7.5 -1,7.5 -2,7 C-6,5 -9,0 -11,-4 Z" fill="#fafafa" stroke="#777" stroke-width="1.6"/><path d="M-6,-2.5 C-2,-3.5 2,-3.5 6,-2.5 L0,3.5 Z" fill="#f0f0f0" stroke="#8a8a8a" stroke-width="1.1"/></g>
<g transform="translate(759.4 301.3) rotate(10.3)"><path d="M-11,-4 C-6,-7 6,-7 11,-4 C9,0 5,5 1,7 C0,7.5 -1,7.5 -2,7 C-6,5 -9,0 -11,-4 Z" fill="#fafafa" stroke="#777" stroke-width="1.6"/><path d="M-6,-2.5 C-2,-3.5 2,-3.5 6,-2.5 L0,3.5 Z" fill="#f0f0f0" stroke="#8a8a8a" stroke-width="1.1"/></g>
<g transform="translate(778.5 304.5) rotate(8.5)"><path d="M-11,-4 C-6,-7 6,-7 11,-4 C9,0 5,5 1,7 C0,7.5 -1,7.5 -2,7 C-6,5 -9,0 -11,-4 Z" fill="#fafafa" stroke="#777" stroke-width="1.6"/><path d="M-6,-2.5 C-2,-3.5 2,-3.5 6,-2.5 L0,3.5 Z" fill="#f0f0f0" stroke="#8a8a8a" stroke-width="1.1"/></g>
<g transform="translate(797.7 307.0) rotate(6.5)"><path d="M-11,-4 C-6,-7 6,-7 11,-4 C9,0 5,5 1,7 C0,7.5 -1,7.5 -2,7 C-6,5 -9,0 -11,-4 Z" fill="#fafafa" stroke="#777" stroke-width="1.6"/><path d="M-6,-2.5 C-2,-3.5 2,-3.5 6,-2.5 L0,3.5 Z" fill="#f0f0f0" stroke="#8a8a8a" stroke-width="1.1"/></g>
<g transform="translate(817.0 308.6) rotate(2.7)"><path d="M-11,-4 C-6,-7 6,-7 11,-4 C9,0 5,5 1,7 C0,7.5 -1,7.5 -2,7 C-6,5 -9,0 -11,-4 Z" fill="#fafafa" stroke="#777" stroke-width="1.6"/><path d="M-6,-2.5 C-2,-3.5 2,-3.5 6,-2.5 L0,3.5 Z" fill="#f0f0f0" stroke="#8a8a8a" stroke-width="1.1"/></g>
<g transform="translate(836.3 309.0) rotate(-0.0)"><path d="M-11,-4 C-6,-7 6,-7 11,-4 C9,0 5,5 1,7 C0,7.5 -1,7.5 -2,7 C-6,5 -9,0 -11,-4 Z" fill="#fafafa" stroke="#777" stroke-width="1.6"/><path d="M-6,-2.5 C-2,-3.5 2,-3.5 6,-2.5 L0,3.5 Z" fill="#f0f0f0" stroke="#8a8a8a" stroke-width="1.1"/></g>
<path d="M846,309 C850,305 856,304 858,308 C859,312 853,314 848,312" fill="#f4f4f4" stroke="#7a7a7a" stroke-width="1.6"/>
<circle cx="664" cy="224" r="7" fill="none" stroke="#888" stroke-width="2"/>
<circle cx="769" cy="223" r="6.5" fill="none" stroke="#8a8a8a" stroke-width="1.8"/>
<path d="M763,230 L766,237" stroke="#999" stroke-width="2.2"/>
<path d="M734,265 C735,273 748,277 760,276 C771,274 776,263 774,251 C772,241 766,235 760,237 C753,240 748,247 743,252 C738,256 733,259 734,265 Z" fill="#f9f9f9" stroke="#808080" stroke-width="1.4"/>
<path d="M740,263 C742,257 750,254 757,254 C763,255 765,262 763,267 C757,271 745,271 740,263 Z" fill="#fff" stroke="#555" stroke-width="1.4"/>
<path d="M774,256 L781,255 L781,259" fill="none" stroke="#888" stroke-width="1.5"/>
<path d="M662.0,230.0 C654.2,228.8 628.8,226.4 615.0,222.8 C601.2,219.2 589.0,212.9 579.0,208.4 C569.0,203.9 561.5,200.7 555.0,195.6 C548.5,190.5 543.5,183.9 540.0,178.0 C536.5,172.1 534.2,166.0 534.0,160.0 C533.8,154.0 536.2,147.4 539.0,142.0 C541.8,136.6 545.0,132.6 551.0,127.6 C557.0,122.6 565.0,116.4 575.0,112.0 C585.0,107.6 601.0,103.6 611.0,101.0 C621.0,98.4 620.2,98.1 635.0,96.4 C649.8,94.7 675.8,91.0 700.0,91.0 C724.2,91.0 757.0,93.1 780.0,96.6 C803.0,100.1 822.1,104.6 838.0,112.0 C853.9,119.4 867.5,132.8 875.4,141.0 C883.3,149.2 885.0,154.1 885.6,161.4 C886.2,168.7 884.5,177.1 878.8,185.0 C873.1,192.9 862.6,202.7 851.6,209.0 C840.6,215.3 826.1,219.3 812.5,222.7 C798.9,226.1 777.1,228.4 770.0,229.5" fill="none" stroke="#24e03c" stroke-width="2.9"/>
<text x="680.8" y="244" font-size="30.5" font-weight="bold" fill="#24e03c" textLength="71" lengthAdjust="spacingAndGlyphs">Neck</text>
<path d="M0,323.0 L100,323.0 L122,370.5 L0,370.5 Z" fill="#ababab"/>
<text x="52.0" y="362.5" font-size="44.5" font-weight="bold" fill="#fff" textLength="23.5" lengthAdjust="spacingAndGlyphs">S</text>
<path d="M0,537.0 L100,537.0 L122,585.0 L0,585.0 Z" fill="#ababab"/>
<text x="52.0" y="576.0" font-size="44.0" font-weight="bold" fill="#fff" textLength="43.0" lengthAdjust="spacingAndGlyphs">M</text>
<path d="M0,747.0 L100,747.0 L122,794.5 L0,794.5 Z" fill="#ababab"/>
<text x="53.0" y="786.0" font-size="44.5" font-weight="bold" fill="#fff" textLength="22.5" lengthAdjust="spacingAndGlyphs">L</text>
<g transform="translate(0.0 0.0)">
<path d="M72,413 C67,404 56,401 47,404 C40,407 39,417 45,421 C51,424 62,423 72,414 Z" fill="#f7f7f7" stroke="#8a8a8a" stroke-width="1.4"/>
<path d="M44.5,410 C45,404.5 55,403.5 62,408 C64,410.5 60,415 56,419.5 C50,421.5 44.5,417 44.5,410 Z" fill="#fff" stroke="#6a6a6a" stroke-width="1.1"/>
<path d="M71.5,413 C66,416.5 61,420.5 55,422.5" fill="none" stroke="#2a2a2a" stroke-width="3.2" stroke-linecap="round"/>
<path d="M70,411 C66,410 62,412 58,416" fill="none" stroke="#666" stroke-width="1.3"/>
<ellipse cx="76" cy="413.5" rx="3.5" ry="2.6" fill="#ddd" stroke="#999" stroke-width="1"/>
<ellipse cx="85.5" cy="415" rx="4.2" ry="4.2" fill="#e6e6e6" stroke="#888" stroke-width="1.3"/>
</g>
<rect x="42.4" y="389.0" width="627.6" height="50.0" fill="#000" opacity="0.0" filter="url(#blur)"/>
<defs><pattern id="rs0" patternUnits="userSpaceOnUse" x="92.4" y="401.0" width="64.0" height="26.0">
<circle cx="3.58" cy="4.98" r="3.15" fill="#fafafa" stroke="#3c3c3c" stroke-width="1.6"/>
<circle cx="67.58" cy="4.98" r="3.15" fill="#fafafa" stroke="#3c3c3c" stroke-width="1.3"/>
<circle cx="-60.42" cy="4.98" r="3.15" fill="#fafafa" stroke="#3c3c3c" stroke-width="1.6"/>
<circle cx="10.42" cy="4.23" r="2.70" fill="#f4f4f4" stroke="#3c3c3c" stroke-width="1.5"/>
<circle cx="74.42" cy="4.23" r="2.70" fill="#f4f4f4" stroke="#3c3c3c" stroke-width="1.5"/>
<circle cx="-53.58" cy="4.23" r="2.70" fill="#f4f4f4" stroke="#3c3c3c" stroke-width="1.2"/>
<circle cx="17.32" cy="5.50" r="3.61" fill="#e0e0e0" stroke="#3c3c3c" stroke-width="1.1"/>
<circle cx="81.32" cy="5.50" r="3.61" fill="#e0e0e0" stroke="#3c3c3c" stroke-width="1.7"/>
<circle cx="-46.68" cy="5.50" r="3.61" fill="#e0e0e0" stroke="#3c3c3c" stroke-width="1.3"/>
<circle cx="25.36" cy="4.10" r="3.60" fill="#fafafa" stroke="#3c3c3c" stroke-width="1.4"/>
<circle cx="89.36" cy="4.10" r="3.60" fill="#fafafa" stroke="#3c3c3c" stroke-width="1.7"/>
<circle cx="-38.64" cy="4.10" r="3.60" fill="#fafafa" stroke="#3c3c3c" stroke-width="1.7"/>
<circle cx="32.85" cy="3.43" r="3.38" fill="#f4f4f4" stroke="#3c3c3c" stroke-width="1.5"/>
<circle cx="96.85" cy="3.43" r="3.38" fill="#f4f4f4" stroke="#3c3c3c" stroke-width="1.1"/>
<circle cx="-31.15" cy="3.43" r="3.38" fill="#f4f4f4" stroke="#3c3c3c" stroke-width="1.7"/>
<circle cx="39.54" cy="3.20" r="2.80" fill="#e0e0e0" stroke="#3c3c3c" stroke-width="1.8"/>
<circle cx="103.54" cy="3.20" r="2.80" fill="#e0e0e0" stroke="#3c3c3c" stroke-width="1.6"/>
<circle cx="-24.46" cy="3.20" r="2.80" fill="#e0e0e0" stroke="#3c3c3c" stroke-width="1.7"/>
<circle cx="46.49" cy="4.95" r="3.35" fill="#f4f4f4" stroke="#3c3c3c" stroke-width="1.5"/>
<circle cx="110.49" cy="4.95" r="3.35" fill="#f4f4f4" stroke="#3c3c3c" stroke-width="1.6"/>
<circle cx="-17.51" cy="4.95" r="3.35" fill="#f4f4f4" stroke="#3c3c3c" stroke-width="1.6"/>
<circle cx="53.75" cy="4.55" r="2.95" fill="#b8b8b8" stroke="#3c3c3c" stroke-width="1.5"/>
<circle cx="117.75" cy="4.55" r="2.95" fill="#b8b8b8" stroke="#3c3c3c" stroke-width="1.4"/>
<circle cx="-10.25" cy="4.55" r="2.95" fill="#b8b8b8" stroke="#3c3c3c" stroke-width="1.8"/>
<circle cx="61.38" cy="3.28" r="3.08" fill="#f4f4f4" stroke="#3c3c3c" stroke-width="1.7"/>
<circle cx="125.38" cy="3.28" r="3.08" fill="#f4f4f4" stroke="#3c3c3c" stroke-width="1.5"/>
<circle cx="-2.62" cy="3.28" r="3.08" fill="#f4f4f4" stroke="#3c3c3c" stroke-width="1.2"/>
<circle cx="6.19" cy="13.64" r="3.46" fill="#b8b8b8" stroke="#3c3c3c" stroke-width="1.6"/>
<circle cx="70.19" cy="13.64" r="3.46" fill="#b8b8b8" stroke="#3c3c3c" stroke-width="1.7"/>
<circle cx="-57.81" cy="13.64" r="3.46" fill="#b8b8b8" stroke="#3c3c3c" stroke-width="1.2"/>
<circle cx="13.32" cy="12.58" r="3.30" fill="#f4f4f4" stroke="#3c3c3c" stroke-width="1.6"/>
<circle cx="77.32" cy="12.58" r="3.30" fill="#f4f4f4" stroke="#3c3c3c" stroke-width="1.6"/>
<circle cx="-50.68" cy="12.58" r="3.30" fill="#f4f4f4" stroke="#3c3c3c" stroke-width="1.1"/>
<circle cx="20.30" cy="12.33" r="3.31" fill="#cfcfcf" stroke="#3c3c3c" stroke-width="1.4"/>
<circle cx="84.30" cy="12.33" r="3.31" fill="#cfcfcf" stroke="#3c3c3c" stroke-width="1.2"/>
<circle cx="-43.70" cy="12.33" r="3.31" fill="#cfcfcf" stroke="#3c3c3c" stroke-width="1.6"/>
<circle cx="27.89" cy="12.89" r="3.03" fill="#f4f4f4" stroke="#3c3c3c" stroke-width="1.4"/>
<circle cx="91.89" cy="12.89" r="3.03" fill="#f4f4f4" stroke="#3c3c3c" stroke-width="1.7"/>
<circle cx="-36.11" cy="12.89" r="3.03" fill="#f4f4f4" stroke="#3c3c3c" stroke-width="1.1"/>
<circle cx="34.65" cy="13.54" r="2.65" fill="#f4f4f4" stroke="#3c3c3c" stroke-width="1.3"/>
<circle cx="98.65" cy="13.54" r="2.65" fill="#f4f4f4" stroke="#3c3c3c" stroke-width="1.6"/>
<circle cx="-29.35" cy="13.54" r="2.65" fill="#f4f4f4" stroke="#3c3c3c" stroke-width="1.5"/>
<circle cx="41.63" cy="13.11" r="3.17" fill="#fafafa" stroke="#3c3c3c" stroke-width="1.1"/>
<circle cx="105.63" cy="13.11" r="3.17" fill="#fafafa" stroke="#3c3c3c" stroke-width="1.6"/>
<circle cx="-22.37" cy="13.11" r="3.17" fill="#fafafa" stroke="#3c3c3c" stroke-width="1.7"/>
<circle cx="48.00" cy="12.40" r="2.84" fill="#f4f4f4" stroke="#3c3c3c" stroke-width="1.0"/>
<circle cx="112.00" cy="12.40" r="2.84" fill="#f4f4f4" stroke="#3c3c3c" stroke-width="1.2"/>
<circle cx="-16.00" cy="12.40" r="2.84" fill="#f4f4f4" stroke="#3c3c3c" stroke-width="1.1"/>
<circle cx="54.89" cy="13.56" r="3.43" fill="#f4f4f4" stroke="#3c3c3c" stroke-width="1.4"/>
<circle cx="118.89" cy="13.56" r="3.43" fill="#f4f4f4" stroke="#3c3c3c" stroke-width="1.4"/>
<circle cx="-9.11" cy="13.56" r="3.43" fill="#f4f4f4" stroke="#3c3c3c" stroke-width="1.3"/>
<circle cx="62.04" cy="13.19" r="2.83" fill="#cfcfcf" stroke="#3c3c3c" stroke-width="1.3"/>
<circle cx="126.04" cy="13.19" r="2.83" fill="#cfcfcf" stroke="#3c3c3c" stroke-width="1.7"/>
<circle cx="-1.96" cy="13.19" r="2.83" fill="#cfcfcf" stroke="#3c3c3c" stroke-width="1.7"/>
<circle cx="5.92" cy="22.84" r="2.92" fill="#cfcfcf" stroke="#3c3c3c" stroke-width="1.7"/>
<circle cx="69.92" cy="22.84" r="2.92" fill="#cfcfcf" stroke="#3c3c3c" stroke-width="1.1"/>
<circle cx="-58.08" cy="22.84" r="2.92" fill="#cfcfcf" stroke="#3c3c3c" stroke-width="1.2"/>
<circle cx="12.95" cy="20.47" r="3.75" fill="#cfcfcf" stroke="#3c3c3c" stroke-width="1.0"/>
<circle cx="76.95" cy="20.47" r="3.75" fill="#cfcfcf" stroke="#3c3c3c" stroke-width="1.0"/>
<circle cx="-51.05" cy="20.47" r="3.75" fill="#cfcfcf" stroke="#3c3c3c" stroke-width="1.7"/>
<circle cx="20.46" cy="22.04" r="3.08" fill="#e0e0e0" stroke="#3c3c3c" stroke-width="1.2"/>
<circle cx="84.46" cy="22.04" r="3.08" fill="#e0e0e0" stroke="#3c3c3c" stroke-width="1.5"/>
<circle cx="-43.54" cy="22.04" r="3.08" fill="#e0e0e0" stroke="#3c3c3c" stroke-width="1.5"/>
<circle cx="28.54" cy="21.31" r="3.59" fill="#fafafa" stroke="#3c3c3c" stroke-width="1.0"/>
<circle cx="92.54" cy="21.31" r="3.59" fill="#fafafa" stroke="#3c3c3c" stroke-width="1.6"/>
<circle cx="-35.46" cy="21.31" r="3.59" fill="#fafafa" stroke="#3c3c3c" stroke-width="1.7"/>
<circle cx="35.97" cy="22.51" r="3.43" fill="#b8b8b8" stroke="#3c3c3c" stroke-width="1.1"/>
<circle cx="99.97" cy="22.51" r="3.43" fill="#b8b8b8" stroke="#3c3c3c" stroke-width="1.7"/>
<circle cx="-28.03" cy="22.51" r="3.43" fill="#b8b8b8" stroke="#3c3c3c" stroke-width="1.0"/>
<circle cx="44.10" cy="21.68" r="3.44" fill="#e0e0e0" stroke="#3c3c3c" stroke-width="1.3"/>
<circle cx="108.10" cy="21.68" r="3.44" fill="#e0e0e0" stroke="#3c3c3c" stroke-width="1.6"/>
<circle cx="-19.90" cy="21.68" r="3.44" fill="#e0e0e0" stroke="#3c3c3c" stroke-width="1.2"/>
<circle cx="52.35" cy="21.85" r="3.32" fill="#cfcfcf" stroke="#3c3c3c" stroke-width="1.1"/>
<circle cx="116.35" cy="21.85" r="3.32" fill="#cfcfcf" stroke="#3c3c3c" stroke-width="1.4"/>
<circle cx="-11.65" cy="21.85" r="3.32" fill="#cfcfcf" stroke="#3c3c3c" stroke-width="1.6"/>
<circle cx="60.16" cy="21.68" r="3.63" fill="#cfcfcf" stroke="#3c3c3c" stroke-width="1.1"/>
<circle cx="124.16" cy="21.68" r="3.63" fill="#cfcfcf" stroke="#3c3c3c" stroke-width="1.1"/>
<circle cx="-3.84" cy="21.68" r="3.63" fill="#cfcfcf" stroke="#3c3c3c" stroke-width="1.5"/>
</pattern></defs>
<rect x="92.4" y="401.0" width="425.6" height="26.0" rx="2" fill="#7c7c7c"/>
<rect x="92.4" y="401.0" width="425.6" height="26.0" rx="2" fill="url(#rs0)" filter="url(#warp)"/>
<rect x="92.4" y="401.0" width="425.6" height="26.0" rx="2" fill="#8e8e8e" filter="url(#tex)" opacity="0.4"/>
<line x1="274.0" y1="398.0" x2="274.0" y2="432.5" stroke="#f4f4f4" stroke-width="2"/>
<circle cx="275.0" cy="431.5" r="4.5" fill="none" stroke="#bbb" stroke-width="1"/>
<g fill="#9a9a9a" stroke="#6a6a6a" stroke-width="1.2"><circle cx="255.8" cy="441.9" r="5.9"/><circle cx="255.8" cy="451.6" r="5.9"/><circle cx="298.1" cy="441.9" r="5.9"/><circle cx="298.1" cy="451.6" r="5.9"/><rect x="255.3" y="440.0" width="43.3" height="13.5"/></g>
<g fill="#888" filter="url(#tex2)" opacity="0.6"><circle cx="255.8" cy="441.9" r="5.9"/><circle cx="255.8" cy="451.6" r="5.9"/><circle cx="298.1" cy="441.9" r="5.9"/><circle cx="298.1" cy="451.6" r="5.9"/><rect x="255.3" y="440.0" width="43.3" height="13.5"/></g>
<circle cx="255.8" cy="441.9" r="3.6" fill="none" stroke="#444" stroke-width="1.5" opacity="0.85"/>
<circle cx="255.8" cy="451.6" r="3.6" fill="none" stroke="#444" stroke-width="1.5" opacity="0.85"/>
<circle cx="298.1" cy="441.9" r="3.6" fill="none" stroke="#444" stroke-width="1.5" opacity="0.85"/>
<circle cx="298.1" cy="451.6" r="3.6" fill="none" stroke="#444" stroke-width="1.5" opacity="0.85"/>
<line x1="258.3" y1="446.8" x2="295.7" y2="446.8" stroke="#666" stroke-width="1" opacity="0.7"/>
<ellipse cx="526.9" cy="416.0" rx="7.7" ry="5.6" fill="#f2f2f2" stroke="#999" stroke-width="1.6"/>
<ellipse cx="540.7" cy="416.0" rx="7.7" ry="5.6" fill="#f2f2f2" stroke="#999" stroke-width="1.6"/>
<ellipse cx="554.4" cy="416.0" rx="7.7" ry="5.6" fill="#f2f2f2" stroke="#999" stroke-width="1.6"/>
<ellipse cx="568.2" cy="416.0" rx="7.7" ry="5.6" fill="#f2f2f2" stroke="#999" stroke-width="1.6"/>
<ellipse cx="582.0" cy="416.0" rx="7.7" ry="5.6" fill="#f2f2f2" stroke="#999" stroke-width="1.6"/>
<ellipse cx="595.8" cy="416.0" rx="7.7" ry="5.6" fill="#f2f2f2" stroke="#999" stroke-width="1.6"/>
<ellipse cx="609.6" cy="416.0" rx="7.7" ry="5.6" fill="#f2f2f2" stroke="#999" stroke-width="1.6"/>
<ellipse cx="623.3" cy="416.0" rx="7.7" ry="5.6" fill="#f2f2f2" stroke="#999" stroke-width="1.6"/>
<ellipse cx="637.1" cy="416.0" rx="7.7" ry="5.6" fill="#f2f2f2" stroke="#999" stroke-width="1.6"/>
<path d="M531.3,420.0 L536.3,412.0" stroke="#8a8a8a" stroke-width="1.5"/>
<path d="M545.1,420.0 L550.1,412.0" stroke="#8a8a8a" stroke-width="1.5"/>
<path d="M558.8,420.0 L563.8,412.0" stroke="#8a8a8a" stroke-width="1.5"/>
<path d="M572.6,420.0 L577.6,412.0" stroke="#8a8a8a" stroke-width="1.5"/>
<path d="M586.4,420.0 L591.4,412.0" stroke="#8a8a8a" stroke-width="1.5"/>
<path d="M600.2,420.0 L605.2,412.0" stroke="#8a8a8a" stroke-width="1.5"/>
<path d="M613.9,420.0 L618.9,412.0" stroke="#8a8a8a" stroke-width="1.5"/>
<path d="M627.7,420.0 L632.7,412.0" stroke="#8a8a8a" stroke-width="1.5"/>
<path d="M642.0,416.0 C648.0,412.0 654.0,411.5 660.0,413.5 C656.0,417.5 648.0,419.0 642.0,416.0 Z" fill="#f0f0f0" stroke="#a0a0a0" stroke-width="1.3"/>
<g transform="translate(2.0 213.0)">
<path d="M72,413 C67,404 56,401 47,404 C40,407 39,417 45,421 C51,424 62,423 72,414 Z" fill="#f7f7f7" stroke="#8a8a8a" stroke-width="1.4"/>
<path d="M44.5,410 C45,404.5 55,403.5 62,408 C64,410.5 60,415 56,419.5 C50,421.5 44.5,417 44.5,410 Z" fill="#fff" stroke="#6a6a6a" stroke-width="1.1"/>
<path d="M71.5,413 C66,416.5 61,420.5 55,422.5" fill="none" stroke="#2a2a2a" stroke-width="3.2" stroke-linecap="round"/>
<path d="M70,411 C66,410 62,412 58,416" fill="none" stroke="#666" stroke-width="1.3"/>
<ellipse cx="76" cy="413.5" rx="3.5" ry="2.6" fill="#ddd" stroke="#999" stroke-width="1"/>
<ellipse cx="85.5" cy="415" rx="4.2" ry="4.2" fill="#e6e6e6" stroke="#888" stroke-width="1.3"/>
</g>
<rect x="42.2" y="600.0" width="737.8" height="51.5" fill="#000" opacity="0.0" filter="url(#blur)"/>
<defs><pattern id="rs1" patternUnits="userSpaceOnUse" x="92.2" y="612.0" width="64.0" height="27.5">
<circle cx="4.58" cy="5.70" r="2.83" fill="#cfcfcf" stroke="#3c3c3c" stroke-width="1.4"/>
<circle cx="68.58" cy="5.70" r="2.83" fill="#cfcfcf" stroke="#3c3c3c" stroke-width="1.5"/>
<circle cx="-59.42" cy="5.70" r="2.83" fill="#cfcfcf" stroke="#3c3c3c" stroke-width="1.2"/>
<circle cx="10.95" cy="5.05" r="2.95" fill="#e0e0e0" stroke="#3c3c3c" stroke-width="1.3"/>
<circle cx="74.95" cy="5.05" r="2.95" fill="#e0e0e0" stroke="#3c3c3c" stroke-width="1.4"/>
<circle cx="-53.05" cy="5.05" r="2.95" fill="#e0e0e0" stroke="#3c3c3c" stroke-width="1.2"/>
<circle cx="17.54" cy="4.67" r="3.13" fill="#e0e0e0" stroke="#3c3c3c" stroke-width="1.4"/>
<circle cx="81.54" cy="4.67" r="3.13" fill="#e0e0e0" stroke="#3c3c3c" stroke-width="1.3"/>
<circle cx="-46.46" cy="4.67" r="3.13" fill="#e0e0e0" stroke="#3c3c3c" stroke-width="1.5"/>
<circle cx="24.34" cy="4.42" r="2.85" fill="#cfcfcf" stroke="#3c3c3c" stroke-width="1.2"/>
<circle cx="88.34" cy="4.42" r="2.85" fill="#cfcfcf" stroke="#3c3c3c" stroke-width="1.5"/>
<circle cx="-39.66" cy="4.42" r="2.85" fill="#cfcfcf" stroke="#3c3c3c" stroke-width="1.5"/>
<circle cx="31.55" cy="4.02" r="3.63" fill="#fafafa" stroke="#3c3c3c" stroke-width="1.2"/>
<circle cx="95.55" cy="4.02" r="3.63" fill="#fafafa" stroke="#3c3c3c" stroke-width="1.1"/>
<circle cx="-32.45" cy="4.02" r="3.63" fill="#fafafa" stroke="#3c3c3c" stroke-width="1.6"/>
<circle cx="39.67" cy="3.90" r="3.65" fill="#f4f4f4" stroke="#3c3c3c" stroke-width="1.3"/>
<circle cx="103.67" cy="3.90" r="3.65" fill="#f4f4f4" stroke="#3c3c3c" stroke-width="1.0"/>
<circle cx="-24.33" cy="3.90" r="3.65" fill="#f4f4f4" stroke="#3c3c3c" stroke-width="1.6"/>
<circle cx="46.91" cy="3.75" r="3.28" fill="#f4f4f4" stroke="#3c3c3c" stroke-width="1.3"/>
<circle cx="110.91" cy="3.75" r="3.28" fill="#f4f4f4" stroke="#3c3c3c" stroke-width="1.2"/>
<circle cx="-17.09" cy="3.75" r="3.28" fill="#f4f4f4" stroke="#3c3c3c" stroke-width="1.6"/>
<circle cx="54.80" cy="5.37" r="3.79" fill="#b8b8b8" stroke="#3c3c3c" stroke-width="1.4"/>
<circle cx="118.80" cy="5.37" r="3.79" fill="#b8b8b8" stroke="#3c3c3c" stroke-width="1.4"/>
<circle cx="-9.20" cy="5.37" r="3.79" fill="#b8b8b8" stroke="#3c3c3c" stroke-width="1.7"/>
<circle cx="62.94" cy="5.04" r="3.64" fill="#f4f4f4" stroke="#3c3c3c" stroke-width="1.8"/>
<circle cx="126.94" cy="5.04" r="3.64" fill="#f4f4f4" stroke="#3c3c3c" stroke-width="1.1"/>
<circle cx="-1.06" cy="5.04" r="3.64" fill="#f4f4f4" stroke="#3c3c3c" stroke-width="1.5"/>
<circle cx="5.24" cy="14.51" r="3.13" fill="#b8b8b8" stroke="#3c3c3c" stroke-width="1.6"/>
<circle cx="69.24" cy="14.51" r="3.13" fill="#b8b8b8" stroke="#3c3c3c" stroke-width="1.6"/>
<circle cx="-58.76" cy="14.51" r="3.13" fill="#b8b8b8" stroke="#3c3c3c" stroke-width="1.6"/>
<circle cx="11.66" cy="14.45" r="2.81" fill="#b8b8b8" stroke="#3c3c3c" stroke-width="1.4"/>
<circle cx="75.66" cy="14.45" r="2.81" fill="#b8b8b8" stroke="#3c3c3c" stroke-width="1.7"/>
<circle cx="-52.34" cy="14.45" r="2.81" fill="#b8b8b8" stroke="#3c3c3c" stroke-width="1.1"/>
<circle cx="19.69" cy="13.36" r="3.66" fill="#f4f4f4" stroke="#3c3c3c" stroke-width="1.0"/>
<circle cx="83.69" cy="13.36" r="3.66" fill="#f4f4f4" stroke="#3c3c3c" stroke-width="1.4"/>
<circle cx="-44.31" cy="13.36" r="3.66" fill="#f4f4f4" stroke="#3c3c3c" stroke-width="1.8"/>
<circle cx="27.08" cy="14.18" r="2.83" fill="#cfcfcf" stroke="#3c3c3c" stroke-width="1.1"/>
<circle cx="91.08" cy="14.18" r="2.83" fill="#cfcfcf" stroke="#3c3c3c" stroke-width="1.7"/>
<circle cx="-36.92" cy="14.18" r="2.83" fill="#cfcfcf" stroke="#3c3c3c" stroke-width="1.2"/>
<circle cx="33.21" cy="14.90" r="2.73" fill="#cfcfcf" stroke="#3c3c3c" stroke-width="1.2"/>
<circle cx="97.21" cy="14.90" r="2.73" fill="#cfcfcf" stroke="#3c3c3c" stroke-width="1.2"/>
<circle cx="-30.79" cy="14.90" r="2.73" fill="#cfcfcf" stroke="#3c3c3c" stroke-width="1.8"/>
<circle cx="39.09" cy="13.50" r="2.62" fill="#b8b8b8" stroke="#3c3c3c" stroke-width="1.4"/>
<circle cx="103.09" cy="13.50" r="2.62" fill="#b8b8b8" stroke="#3c3c3c" stroke-width="1.5"/>
<circle cx="-24.91" cy="13.50" r="2.62" fill="#b8b8b8" stroke="#3c3c3c" stroke-width="1.6"/>
<circle cx="45.25" cy="14.13" r="2.93" fill="#b8b8b8" stroke="#3c3c3c" stroke-width="1.5"/>
<circle cx="109.25" cy="14.13" r="2.93" fill="#b8b8b8" stroke="#3c3c3c" stroke-width="1.3"/>
<circle cx="-18.75" cy="14.13" r="2.93" fill="#b8b8b8" stroke="#3c3c3c" stroke-width="1.0"/>
<circle cx="51.66" cy="13.42" r="3.01" fill="#fafafa" stroke="#3c3c3c" stroke-width="1.3"/>
<circle cx="115.66" cy="13.42" r="3.01" fill="#fafafa" stroke="#3c3c3c" stroke-width="1.0"/>
<circle cx="-12.34" cy="13.42" r="3.01" fill="#fafafa" stroke="#3c3c3c" stroke-width="1.2"/>
<circle cx="57.84" cy="12.84" r="2.78" fill="#cfcfcf" stroke="#3c3c3c" stroke-width="1.1"/>
<circle cx="121.84" cy="12.84" r="2.78" fill="#cfcfcf" stroke="#3c3c3c" stroke-width="1.0"/>
<circle cx="-6.16" cy="12.84" r="2.78" fill="#cfcfcf" stroke="#3c3c3c" stroke-width="1.7"/>
<circle cx="64.59" cy="14.53" r="3.41" fill="#b8b8b8" stroke="#3c3c3c" stroke-width="1.5"/>
<circle cx="128.59" cy="14.53" r="3.41" fill="#b8b8b8" stroke="#3c3c3c" stroke-width="1.4"/>
<circle cx="0.59" cy="14.53" r="3.41" fill="#b8b8b8" stroke="#3c3c3c" stroke-width="1.1"/>
<circle cx="4.37" cy="23.48" r="3.41" fill="#e0e0e0" stroke="#3c3c3c" stroke-width="1.7"/>
<circle cx="68.37" cy="23.48" r="3.41" fill="#e0e0e0" stroke="#3c3c3c" stroke-width="1.2"/>
<circle cx="-59.63" cy="23.48" r="3.41" fill="#e0e0e0" stroke="#3c3c3c" stroke-width="1.8"/>
<circle cx="11.95" cy="23.10" r="2.90" fill="#cfcfcf" stroke="#3c3c3c" stroke-width="1.6"/>
<circle cx="75.95" cy="23.10" r="2.90" fill="#cfcfcf" stroke="#3c3c3c" stroke-width="1.4"/>
<circle cx="-52.05" cy="23.10" r="2.90" fill="#cfcfcf" stroke="#3c3c3c" stroke-width="1.5"/>
<circle cx="18.95" cy="24.00" r="3.45" fill="#fafafa" stroke="#3c3c3c" stroke-width="1.8"/>
<circle cx="82.95" cy="24.00" r="3.45" fill="#fafafa" stroke="#3c3c3c" stroke-width="1.5"/>
<circle cx="-45.05" cy="24.00" r="3.45" fill="#fafafa" stroke="#3c3c3c" stroke-width="1.7"/>
<circle cx="26.43" cy="23.32" r="3.71" fill="#b8b8b8" stroke="#3c3c3c" stroke-width="1.8"/>
<circle cx="90.43" cy="23.32" r="3.71" fill="#b8b8b8" stroke="#3c3c3c" stroke-width="1.4"/>
<circle cx="-37.57" cy="23.32" r="3.71" fill="#b8b8b8" stroke="#3c3c3c" stroke-width="1.6"/>
<circle cx="33.91" cy="23.80" r="2.64" fill="#b8b8b8" stroke="#3c3c3c" stroke-width="1.5"/>
<circle cx="97.91" cy="23.80" r="2.64" fill="#b8b8b8" stroke="#3c3c3c" stroke-width="1.6"/>
<circle cx="-30.09" cy="23.80" r="2.64" fill="#b8b8b8" stroke="#3c3c3c" stroke-width="1.8"/>
<circle cx="40.90" cy="23.47" r="3.01" fill="#e0e0e0" stroke="#3c3c3c" stroke-width="1.4"/>
<circle cx="104.90" cy="23.47" r="3.01" fill="#e0e0e0" stroke="#3c3c3c" stroke-width="1.8"/>
<circle cx="-23.10" cy="23.47" r="3.01" fill="#e0e0e0" stroke="#3c3c3c" stroke-width="1.1"/>
<circle cx="47.24" cy="23.26" r="3.03" fill="#b8b8b8" stroke="#3c3c3c" stroke-width="1.1"/>
<circle cx="111.24" cy="23.26" r="3.03" fill="#b8b8b8" stroke="#3c3c3c" stroke-width="1.2"/>
<circle cx="-16.76" cy="23.26" r="3.03" fill="#b8b8b8" stroke="#3c3c3c" stroke-width="1.2"/>
<circle cx="54.25" cy="23.13" r="3.48" fill="#e0e0e0" stroke="#3c3c3c" stroke-width="1.4"/>
<circle cx="118.25" cy="23.13" r="3.48" fill="#e0e0e0" stroke="#3c3c3c" stroke-width="1.0"/>
<circle cx="-9.75" cy="23.13" r="3.48" fill="#e0e0e0" stroke="#3c3c3c" stroke-width="1.2"/>
<circle cx="62.16" cy="23.92" r="3.46" fill="#b8b8b8" stroke="#3c3c3c" stroke-width="1.7"/>
<circle cx="126.16" cy="23.92" r="3.46" fill="#b8b8b8" stroke="#3c3c3c" stroke-width="1.1"/>
<circle cx="-1.84" cy="23.92" r="3.46" fill="#b8b8b8" stroke="#3c3c3c" stroke-width="1.4"/>
</pattern></defs>
<rect x="92.2" y="612.0" width="536.5" height="27.5" rx="2" fill="#7c7c7c"/>
<rect x="92.2" y="612.0" width="536.5" height="27.5" rx="2" fill="url(#rs1)" filter="url(#warp)"/>
<rect x="92.2" y="612.0" width="536.5" height="27.5" rx="2" fill="#8e8e8e" filter="url(#tex)" opacity="0.4"/>
<line x1="352.8" y1="609.0" x2="352.8" y2="644.4" stroke="#f4f4f4" stroke-width="2"/>
<circle cx="353.8" cy="643.4" r="4.5" fill="none" stroke="#bbb" stroke-width="1"/>
<g fill="#9a9a9a" stroke="#6a6a6a" stroke-width="1.2"><circle cx="334.0" cy="653.8" r="5.9"/><circle cx="334.0" cy="663.8" r="5.9"/><circle cx="376.4" cy="653.8" r="5.9"/><circle cx="376.4" cy="663.8" r="5.9"/><rect x="333.5" y="652.0" width="43.3" height="13.7"/></g>
<g fill="#888" filter="url(#tex2)" opacity="0.6"><circle cx="334.0" cy="653.8" r="5.9"/><circle cx="334.0" cy="663.8" r="5.9"/><circle cx="376.4" cy="653.8" r="5.9"/><circle cx="376.4" cy="663.8" r="5.9"/><rect x="333.5" y="652.0" width="43.3" height="13.7"/></g>
<circle cx="334.0" cy="653.8" r="3.7" fill="none" stroke="#444" stroke-width="1.5" opacity="0.85"/>
<circle cx="334.0" cy="663.8" r="3.7" fill="none" stroke="#444" stroke-width="1.5" opacity="0.85"/>
<circle cx="376.4" cy="653.8" r="3.7" fill="none" stroke="#444" stroke-width="1.5" opacity="0.85"/>
<circle cx="376.4" cy="663.8" r="3.7" fill="none" stroke="#444" stroke-width="1.5" opacity="0.85"/>
<line x1="336.5" y1="658.8" x2="373.9" y2="658.8" stroke="#666" stroke-width="1" opacity="0.7"/>
<ellipse cx="637.6" cy="627.8" rx="7.7" ry="5.6" fill="#f2f2f2" stroke="#999" stroke-width="1.6"/>
<ellipse cx="651.4" cy="627.8" rx="7.7" ry="5.6" fill="#f2f2f2" stroke="#999" stroke-width="1.6"/>
<ellipse cx="665.2" cy="627.8" rx="7.7" ry="5.6" fill="#f2f2f2" stroke="#999" stroke-width="1.6"/>
<ellipse cx="679.0" cy="627.8" rx="7.7" ry="5.6" fill="#f2f2f2" stroke="#999" stroke-width="1.6"/>
<ellipse cx="692.9" cy="627.8" rx="7.7" ry="5.6" fill="#f2f2f2" stroke="#999" stroke-width="1.6"/>
<ellipse cx="706.7" cy="627.8" rx="7.7" ry="5.6" fill="#f2f2f2" stroke="#999" stroke-width="1.6"/>
<ellipse cx="720.5" cy="627.8" rx="7.7" ry="5.6" fill="#f2f2f2" stroke="#999" stroke-width="1.6"/>
<ellipse cx="734.3" cy="627.8" rx="7.7" ry="5.6" fill="#f2f2f2" stroke="#999" stroke-width="1.6"/>
<ellipse cx="748.1" cy="627.8" rx="7.7" ry="5.6" fill="#f2f2f2" stroke="#999" stroke-width="1.6"/>
<path d="M642.0,631.8 L647.0,623.8" stroke="#8a8a8a" stroke-width="1.5"/>
<path d="M655.8,631.8 L660.8,623.8" stroke="#8a8a8a" stroke-width="1.5"/>
<path d="M669.6,631.8 L674.6,623.8" stroke="#8a8a8a" stroke-width="1.5"/>
<path d="M683.4,631.8 L688.4,623.8" stroke="#8a8a8a" stroke-width="1.5"/>
<path d="M697.3,631.8 L702.3,623.8" stroke="#8a8a8a" stroke-width="1.5"/>
<path d="M711.1,631.8 L716.1,623.8" stroke="#8a8a8a" stroke-width="1.5"/>
<path d="M724.9,631.8 L729.9,623.8" stroke="#8a8a8a" stroke-width="1.5"/>
<path d="M738.7,631.8 L743.7,623.8" stroke="#8a8a8a" stroke-width="1.5"/>
<path d="M753.0,627.8 C759.0,623.8 764.0,623.2 770.0,625.2 C766.0,629.2 759.0,630.8 753.0,627.8 Z" fill="#f0f0f0" stroke="#a0a0a0" stroke-width="1.3"/>
<g transform="translate(4.6 426.0)">
<path d="M72,413 C67,404 56,401 47,404 C40,407 39,417 45,421 C51,424 62,423 72,414 Z" fill="#f7f7f7" stroke="#8a8a8a" stroke-width="1.4"/>
<path d="M44.5,410 C45,404.5 55,403.5 62,408 C64,410.5 60,415 56,419.5 C50,421.5 44.5,417 44.5,410 Z" fill="#fff" stroke="#6a6a6a" stroke-width="1.1"/>
<path d="M71.5,413 C66,416.5 61,420.5 55,422.5" fill="none" stroke="#2a2a2a" stroke-width="3.2" stroke-linecap="round"/>
<path d="M70,411 C66,410 62,412 58,416" fill="none" stroke="#666" stroke-width="1.3"/>
<ellipse cx="76" cy="413.5" rx="3.5" ry="2.6" fill="#ddd" stroke="#999" stroke-width="1"/>
<ellipse cx="85.5" cy="415" rx="4.2" ry="4.2" fill="#e6e6e6" stroke="#888" stroke-width="1.3"/>
</g>
<rect x="46.0" y="813.5" width="918.0" height="50.5" fill="#000" opacity="0.0" filter="url(#blur)"/>
<defs><pattern id="rs2" patternUnits="userSpaceOnUse" x="96.0" y="825.5" width="64.0" height="26.5">
<circle cx="3.78" cy="3.62" r="3.34" fill="#b8b8b8" stroke="#3c3c3c" stroke-width="1.1"/>
<circle cx="67.78" cy="3.62" r="3.34" fill="#b8b8b8" stroke="#3c3c3c" stroke-width="1.2"/>
<circle cx="-60.22" cy="3.62" r="3.34" fill="#b8b8b8" stroke="#3c3c3c" stroke-width="1.3"/>
<circle cx="11.65" cy="4.52" r="3.47" fill="#b8b8b8" stroke="#3c3c3c" stroke-width="1.7"/>
<circle cx="75.65" cy="4.52" r="3.47" fill="#b8b8b8" stroke="#3c3c3c" stroke-width="1.1"/>
<circle cx="-52.35" cy="4.52" r="3.47" fill="#b8b8b8" stroke="#3c3c3c" stroke-width="1.6"/>
<circle cx="19.20" cy="3.42" r="3.21" fill="#f4f4f4" stroke="#3c3c3c" stroke-width="1.6"/>
<circle cx="83.20" cy="3.42" r="3.21" fill="#f4f4f4" stroke="#3c3c3c" stroke-width="1.5"/>
<circle cx="-44.80" cy="3.42" r="3.21" fill="#f4f4f4" stroke="#3c3c3c" stroke-width="1.4"/>
<circle cx="26.23" cy="4.49" r="2.87" fill="#e0e0e0" stroke="#3c3c3c" stroke-width="1.4"/>
<circle cx="90.23" cy="4.49" r="2.87" fill="#e0e0e0" stroke="#3c3c3c" stroke-width="1.3"/>
<circle cx="-37.77" cy="4.49" r="2.87" fill="#e0e0e0" stroke="#3c3c3c" stroke-width="1.4"/>
<circle cx="32.82" cy="5.21" r="3.33" fill="#fafafa" stroke="#3c3c3c" stroke-width="1.6"/>
<circle cx="96.82" cy="5.21" r="3.33" fill="#fafafa" stroke="#3c3c3c" stroke-width="1.4"/>
<circle cx="-31.18" cy="5.21" r="3.33" fill="#fafafa" stroke="#3c3c3c" stroke-width="1.6"/>
<circle cx="40.09" cy="5.39" r="3.08" fill="#e0e0e0" stroke="#3c3c3c" stroke-width="1.3"/>
<circle cx="104.09" cy="5.39" r="3.08" fill="#e0e0e0" stroke="#3c3c3c" stroke-width="1.1"/>
<circle cx="-23.91" cy="5.39" r="3.08" fill="#e0e0e0" stroke="#3c3c3c" stroke-width="1.2"/>
<circle cx="46.61" cy="4.69" r="2.75" fill="#cfcfcf" stroke="#3c3c3c" stroke-width="1.7"/>
<circle cx="110.61" cy="4.69" r="2.75" fill="#cfcfcf" stroke="#3c3c3c" stroke-width="1.5"/>
<circle cx="-17.39" cy="4.69" r="2.75" fill="#cfcfcf" stroke="#3c3c3c" stroke-width="1.4"/>
<circle cx="54.03" cy="4.72" r="3.14" fill="#b8b8b8" stroke="#3c3c3c" stroke-width="1.5"/>
<circle cx="118.03" cy="4.72" r="3.14" fill="#b8b8b8" stroke="#3c3c3c" stroke-width="1.3"/>
<circle cx="-9.97" cy="4.72" r="3.14" fill="#b8b8b8" stroke="#3c3c3c" stroke-width="1.6"/>
<circle cx="61.95" cy="4.71" r="3.70" fill="#b8b8b8" stroke="#3c3c3c" stroke-width="1.7"/>
<circle cx="125.95" cy="4.71" r="3.70" fill="#b8b8b8" stroke="#3c3c3c" stroke-width="1.3"/>
<circle cx="-2.05" cy="4.71" r="3.70" fill="#b8b8b8" stroke="#3c3c3c" stroke-width="1.0"/>
<circle cx="5.07" cy="12.79" r="3.65" fill="#b8b8b8" stroke="#3c3c3c" stroke-width="1.7"/>
<circle cx="69.07" cy="12.79" r="3.65" fill="#b8b8b8" stroke="#3c3c3c" stroke-width="1.3"/>
<circle cx="-58.93" cy="12.79" r="3.65" fill="#b8b8b8" stroke="#3c3c3c" stroke-width="1.2"/>
<circle cx="13.64" cy="12.56" r="3.73" fill="#fafafa" stroke="#3c3c3c" stroke-width="1.2"/>
<circle cx="77.64" cy="12.56" r="3.73" fill="#fafafa" stroke="#3c3c3c" stroke-width="1.1"/>
<circle cx="-50.36" cy="12.56" r="3.73" fill="#fafafa" stroke="#3c3c3c" stroke-width="1.4"/>
<circle cx="21.17" cy="13.33" r="3.32" fill="#f4f4f4" stroke="#3c3c3c" stroke-width="1.1"/>
<circle cx="85.17" cy="13.33" r="3.32" fill="#f4f4f4" stroke="#3c3c3c" stroke-width="1.3"/>
<circle cx="-42.83" cy="13.33" r="3.32" fill="#f4f4f4" stroke="#3c3c3c" stroke-width="1.1"/>
<circle cx="27.72" cy="13.05" r="2.78" fill="#cfcfcf" stroke="#3c3c3c" stroke-width="1.2"/>
<circle cx="91.72" cy="13.05" r="2.78" fill="#cfcfcf" stroke="#3c3c3c" stroke-width="1.4"/>
<circle cx="-36.28" cy="13.05" r="2.78" fill="#cfcfcf" stroke="#3c3c3c" stroke-width="1.6"/>
<circle cx="34.78" cy="14.05" r="3.42" fill="#e0e0e0" stroke="#3c3c3c" stroke-width="1.0"/>
<circle cx="98.78" cy="14.05" r="3.42" fill="#e0e0e0" stroke="#3c3c3c" stroke-width="1.2"/>
<circle cx="-29.22" cy="14.05" r="3.42" fill="#e0e0e0" stroke="#3c3c3c" stroke-width="1.6"/>
<circle cx="42.83" cy="12.55" r="3.29" fill="#e0e0e0" stroke="#3c3c3c" stroke-width="1.2"/>
<circle cx="106.83" cy="12.55" r="3.29" fill="#e0e0e0" stroke="#3c3c3c" stroke-width="1.8"/>
<circle cx="-21.17" cy="12.55" r="3.29" fill="#e0e0e0" stroke="#3c3c3c" stroke-width="1.7"/>
<circle cx="50.74" cy="13.88" r="3.40" fill="#fafafa" stroke="#3c3c3c" stroke-width="1.1"/>
<circle cx="114.74" cy="13.88" r="3.40" fill="#fafafa" stroke="#3c3c3c" stroke-width="1.2"/>
<circle cx="-13.26" cy="13.88" r="3.40" fill="#fafafa" stroke="#3c3c3c" stroke-width="1.3"/>
<circle cx="57.80" cy="14.31" r="3.11" fill="#e0e0e0" stroke="#3c3c3c" stroke-width="1.6"/>
<circle cx="121.80" cy="14.31" r="3.11" fill="#e0e0e0" stroke="#3c3c3c" stroke-width="1.8"/>
<circle cx="-6.20" cy="14.31" r="3.11" fill="#e0e0e0" stroke="#3c3c3c" stroke-width="1.5"/>
<circle cx="65.43" cy="12.71" r="3.60" fill="#e0e0e0" stroke="#3c3c3c" stroke-width="1.6"/>
<circle cx="129.43" cy="12.71" r="3.60" fill="#e0e0e0" stroke="#3c3c3c" stroke-width="1.7"/>
<circle cx="1.43" cy="12.71" r="3.60" fill="#e0e0e0" stroke="#3c3c3c" stroke-width="1.0"/>
<circle cx="5.62" cy="21.97" r="2.77" fill="#b8b8b8" stroke="#3c3c3c" stroke-width="1.3"/>
<circle cx="69.62" cy="21.97" r="2.77" fill="#b8b8b8" stroke="#3c3c3c" stroke-width="1.6"/>
<circle cx="-58.38" cy="21.97" r="2.77" fill="#b8b8b8" stroke="#3c3c3c" stroke-width="1.1"/>
<circle cx="12.93" cy="22.01" r="3.25" fill="#fafafa" stroke="#3c3c3c" stroke-width="1.5"/>
<circle cx="76.93" cy="22.01" r="3.25" fill="#fafafa" stroke="#3c3c3c" stroke-width="1.6"/>
<circle cx="-51.07" cy="22.01" r="3.25" fill="#fafafa" stroke="#3c3c3c" stroke-width="1.6"/>
<circle cx="20.60" cy="23.04" r="3.77" fill="#e0e0e0" stroke="#3c3c3c" stroke-width="1.7"/>
<circle cx="84.60" cy="23.04" r="3.77" fill="#e0e0e0" stroke="#3c3c3c" stroke-width="1.4"/>
<circle cx="-43.40" cy="23.04" r="3.77" fill="#e0e0e0" stroke="#3c3c3c" stroke-width="1.8"/>
<circle cx="28.27" cy="22.69" r="3.51" fill="#fafafa" stroke="#3c3c3c" stroke-width="1.0"/>
<circle cx="92.27" cy="22.69" r="3.51" fill="#fafafa" stroke="#3c3c3c" stroke-width="1.4"/>
<circle cx="-35.73" cy="22.69" r="3.51" fill="#fafafa" stroke="#3c3c3c" stroke-width="1.4"/>
<circle cx="36.02" cy="21.54" r="3.17" fill="#e0e0e0" stroke="#3c3c3c" stroke-width="1.8"/>
<circle cx="100.02" cy="21.54" r="3.17" fill="#e0e0e0" stroke="#3c3c3c" stroke-width="1.4"/>
<circle cx="-27.98" cy="21.54" r="3.17" fill="#e0e0e0" stroke="#3c3c3c" stroke-width="1.1"/>
<circle cx="43.12" cy="22.69" r="2.73" fill="#e0e0e0" stroke="#3c3c3c" stroke-width="1.7"/>
<circle cx="107.12" cy="22.69" r="2.73" fill="#e0e0e0" stroke="#3c3c3c" stroke-width="1.6"/>
<circle cx="-20.88" cy="22.69" r="2.73" fill="#e0e0e0" stroke="#3c3c3c" stroke-width="1.6"/>
<circle cx="50.35" cy="22.42" r="3.08" fill="#fafafa" stroke="#3c3c3c" stroke-width="1.1"/>
<circle cx="114.35" cy="22.42" r="3.08" fill="#fafafa" stroke="#3c3c3c" stroke-width="1.3"/>
<circle cx="-13.65" cy="22.42" r="3.08" fill="#fafafa" stroke="#3c3c3c" stroke-width="1.4"/>
<circle cx="57.95" cy="21.46" r="3.76" fill="#fafafa" stroke="#3c3c3c" stroke-width="1.5"/>
<circle cx="121.95" cy="21.46" r="3.76" fill="#fafafa" stroke="#3c3c3c" stroke-width="1.3"/>
<circle cx="-6.05" cy="21.46" r="3.76" fill="#fafafa" stroke="#3c3c3c" stroke-width="1.0"/>
<circle cx="65.88" cy="22.17" r="3.02" fill="#f4f4f4" stroke="#3c3c3c" stroke-width="1.5"/>
<circle cx="129.88" cy="22.17" r="3.02" fill="#f4f4f4" stroke="#3c3c3c" stroke-width="1.6"/>
<circle cx="1.88" cy="22.17" r="3.02" fill="#f4f4f4" stroke="#3c3c3c" stroke-width="1.4"/>
</pattern></defs>
<rect x="96.0" y="825.5" width="717.4" height="26.5" rx="2" fill="#7c7c7c"/>
<rect x="96.0" y="825.5" width="717.4" height="26.5" rx="2" fill="url(#rs2)" filter="url(#warp)"/>
<rect x="96.0" y="825.5" width="717.4" height="26.5" rx="2" fill="#8e8e8e" filter="url(#tex)" opacity="0.4"/>
<line x1="468.8" y1="822.5" x2="468.8" y2="857.4" stroke="#f4f4f4" stroke-width="2"/>
<circle cx="469.8" cy="856.4" r="4.5" fill="none" stroke="#bbb" stroke-width="1"/>
<g fill="#9a9a9a" stroke="#6a6a6a" stroke-width="1.2"><circle cx="450.0" cy="866.8" r="5.9"/><circle cx="450.0" cy="876.8" r="5.9"/><circle cx="491.8" cy="866.8" r="5.9"/><circle cx="491.8" cy="876.8" r="5.9"/><rect x="449.5" y="865.0" width="42.7" height="13.7"/></g>
<g fill="#888" filter="url(#tex2)" opacity="0.6"><circle cx="450.0" cy="866.8" r="5.9"/><circle cx="450.0" cy="876.8" r="5.9"/><circle cx="491.8" cy="866.8" r="5.9"/><circle cx="491.8" cy="876.8" r="5.9"/><rect x="449.5" y="865.0" width="42.7" height="13.7"/></g>
<circle cx="450.0" cy="866.8" r="3.7" fill="none" stroke="#444" stroke-width="1.5" opacity="0.85"/>
<circle cx="450.0" cy="876.8" r="3.7" fill="none" stroke="#444" stroke-width="1.5" opacity="0.85"/>
<circle cx="491.8" cy="866.8" r="3.7" fill="none" stroke="#444" stroke-width="1.5" opacity="0.85"/>
<circle cx="491.8" cy="876.8" r="3.7" fill="none" stroke="#444" stroke-width="1.5" opacity="0.85"/>
<line x1="452.5" y1="871.8" x2="489.3" y2="871.8" stroke="#666" stroke-width="1" opacity="0.7"/>
<ellipse cx="822.3" cy="840.8" rx="7.8" ry="5.6" fill="#f2f2f2" stroke="#999" stroke-width="1.6"/>
<ellipse cx="836.2" cy="840.8" rx="7.8" ry="5.6" fill="#f2f2f2" stroke="#999" stroke-width="1.6"/>
<ellipse cx="850.0" cy="840.8" rx="7.8" ry="5.6" fill="#f2f2f2" stroke="#999" stroke-width="1.6"/>
<ellipse cx="863.9" cy="840.8" rx="7.8" ry="5.6" fill="#f2f2f2" stroke="#999" stroke-width="1.6"/>
<ellipse cx="877.7" cy="840.8" rx="7.8" ry="5.6" fill="#f2f2f2" stroke="#999" stroke-width="1.6"/>
<ellipse cx="891.5" cy="840.8" rx="7.8" ry="5.6" fill="#f2f2f2" stroke="#999" stroke-width="1.6"/>
<ellipse cx="905.4" cy="840.8" rx="7.8" ry="5.6" fill="#f2f2f2" stroke="#999" stroke-width="1.6"/>
<ellipse cx="919.2" cy="840.8" rx="7.8" ry="5.6" fill="#f2f2f2" stroke="#999" stroke-width="1.6"/>
<ellipse cx="933.1" cy="840.8" rx="7.8" ry="5.6" fill="#f2f2f2" stroke="#999" stroke-width="1.6"/>
<path d="M826.7,844.8 L831.7,836.8" stroke="#8a8a8a" stroke-width="1.5"/>
<path d="M840.6,844.8 L845.6,836.8" stroke="#8a8a8a" stroke-width="1.5"/>
<path d="M854.4,844.8 L859.4,836.8" stroke="#8a8a8a" stroke-width="1.5"/>
<path d="M868.3,844.8 L873.3,836.8" stroke="#8a8a8a" stroke-width="1.5"/>
<path d="M882.1,844.8 L887.1,836.8" stroke="#8a8a8a" stroke-width="1.5"/>
<path d="M896.0,844.8 L901.0,836.8" stroke="#8a8a8a" stroke-width="1.5"/>
<path d="M909.8,844.8 L914.8,836.8" stroke="#8a8a8a" stroke-width="1.5"/>
<path d="M923.7,844.8 L928.7,836.8" stroke="#8a8a8a" stroke-width="1.5"/>
<path d="M938.0,840.8 C944.0,836.8 948.0,836.2 954.0,838.2 C950.0,842.2 944.0,843.8 938.0,840.8 Z" fill="#f0f0f0" stroke="#a0a0a0" stroke-width="1.3"/>
<rect class="ln" x="90.0" y="403.8" width="2.0" height="92.2"/>
<rect class="ln" x="90.0" y="494.0" width="153.6" height="2.0"/>
<rect class="ln" x="390.7" y="494.0" width="139.1" height="2.0"/>
<rect class="ln" x="520.0" y="403.8" width="2.0" height="92.2"/>
<rect class="ln" x="633.5" y="494.0" width="8.5" height="2.0"/>
<rect class="ln" x="640.0" y="403.8" width="2.0" height="92.2"/>
<text x="249.5" y="503.2" font-size="27.0" textLength="135.3" lengthAdjust="spacingAndGlyphs" fill="#111">7.8"(20cm)</text>
<text x="529.2" y="503.8" font-size="27.0" textLength="98.6" lengthAdjust="spacingAndGlyphs" fill="#111">2"(5cm)</text>
<rect class="ln" x="89.0" y="621.6" width="2.0" height="91.9"/>
<rect class="ln" x="89.0" y="711.5" width="192.9" height="2.0"/>
<rect class="ln" x="430.0" y="711.5" width="211.5" height="2.0"/>
<rect class="ln" x="631.0" y="621.8" width="2.0" height="91.7"/>
<rect class="ln" x="744.4" y="711.5" width="8.6" height="2.0"/>
<rect class="ln" x="751.0" y="621.8" width="2.0" height="91.7"/>
<text x="288.6" y="718.0" font-size="27.0" textLength="136.7" lengthAdjust="spacingAndGlyphs" fill="#111">9.8"(25cm)</text>
<text x="643.1" y="719.0" font-size="27.0" textLength="98.0" lengthAdjust="spacingAndGlyphs" fill="#111">2"(5cm)</text>
<rect class="ln" x="93.0" y="825.6" width="2.0" height="92.1"/>
<rect class="ln" x="93.0" y="915.6" width="299.8" height="2.1"/>
<rect class="ln" x="534.4" y="915.6" width="291.6" height="2.1"/>
<rect class="ln" x="815.2" y="825.8" width="2.0" height="91.9"/>
<rect class="ln" x="928.6" y="915.6" width="8.4" height="2.1"/>
<rect class="ln" x="935.0" y="825.8" width="2.0" height="91.9"/>
<text x="399.6" y="925.7" font-size="27.0" textLength="129.0" lengthAdjust="spacingAndGlyphs" fill="#111">13"(33cm)</text>
<text x="828.2" y="920.7" font-size="27.0" textLength="97.6" lengthAdjust="spacingAndGlyphs" fill="#111">2"(5cm)</text>
</svg></body></html>
